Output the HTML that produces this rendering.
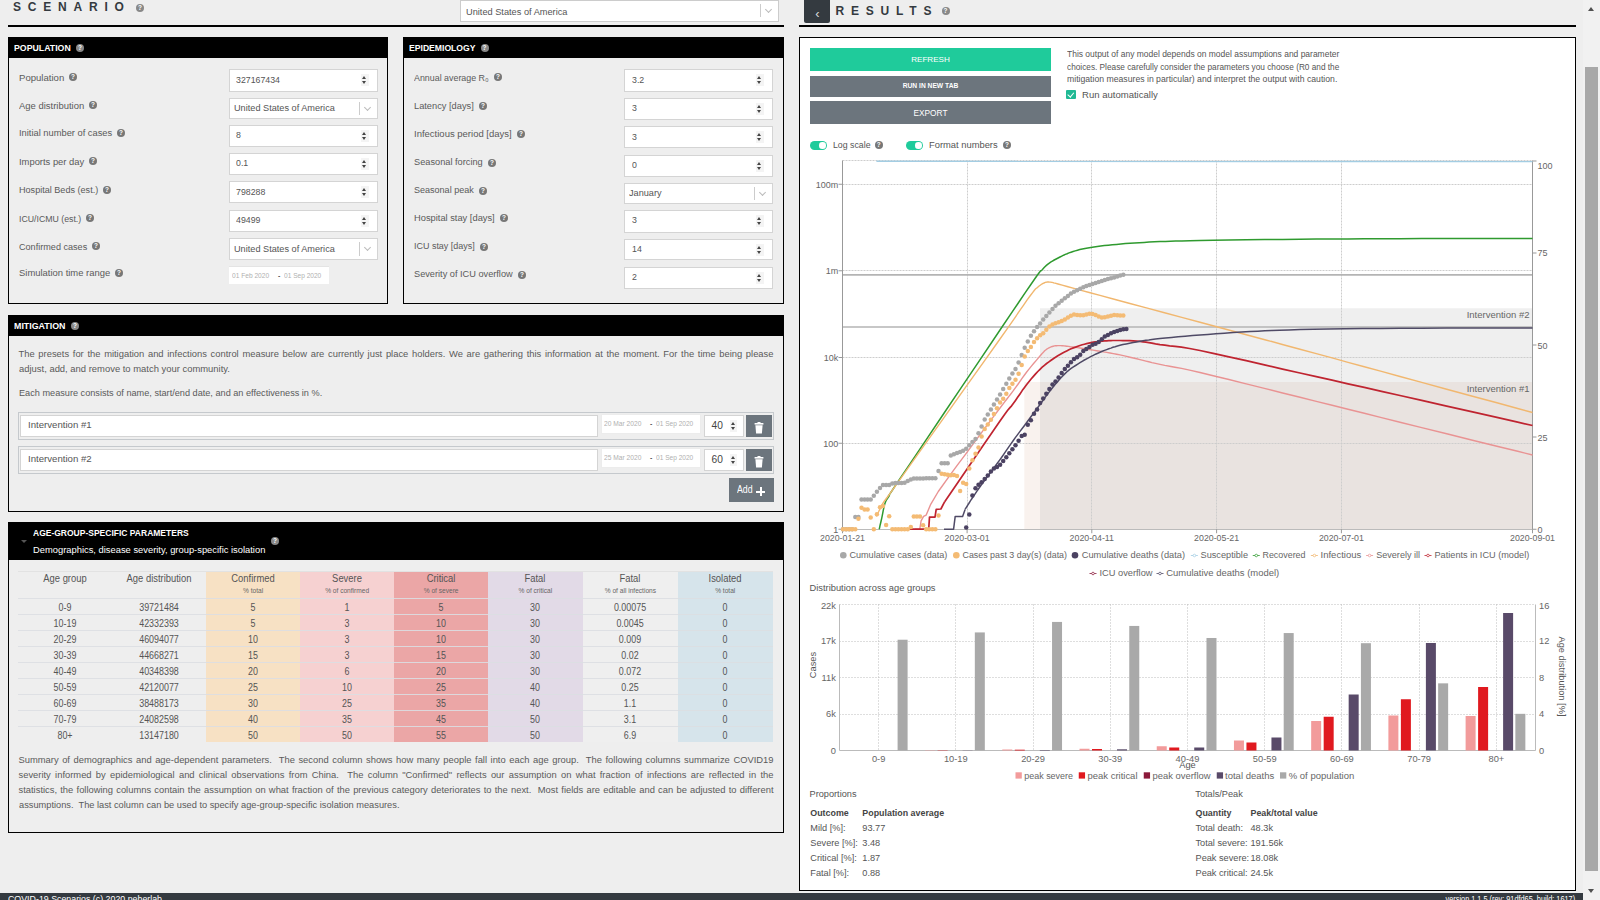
<!DOCTYPE html><html><head><meta charset="utf-8"><title>COVID-19 Scenarios</title><style>

*{margin:0;padding:0}
html,body{width:1600px;height:900px;overflow:hidden;background:#eee;font-family:"Liberation Sans", Arial, sans-serif}
body{position:relative}
.t{position:absolute;white-space:nowrap}
.r{position:absolute}
.q{position:absolute;border-radius:50%;color:#fff;text-align:center;font-weight:bold;font-family:"Liberation Sans", Arial, sans-serif}
.spin{position:absolute;width:6px;height:10px}
.spin:before{content:"";position:absolute;left:0.5px;top:1px;border-left:2.5px solid transparent;border-right:2.5px solid transparent;border-bottom:3px solid #444}
.spin:after{content:"";position:absolute;left:0.5px;top:6px;border-left:2.5px solid transparent;border-right:2.5px solid transparent;border-top:3px solid #444}
.chev{position:absolute;width:4px;height:4px;border-right:1px solid #bbb;border-bottom:1px solid #bbb;transform:rotate(45deg)}
.p{position:absolute;color:#5a5a5a;text-align:justify}

</style></head><body>
<div class="t" style="top:0.34px;font-size:12px;line-height:15.0px;color:#343a40;font-weight:bold;letter-spacing:6.8px;left:13px;">SCENARIO</div>
<div class="q" style="left:136.0px;top:4.0px;width:8px;height:8px;background:#888;font-size:6.4px;line-height:8px">?</div>
<div class="r" style="left:460px;top:0px;width:318.5px;height:22px;background:#fff;border:1px solid #ccc;box-sizing:border-box;"></div>
<div class="t" style="top:6.47px;font-size:9.6px;line-height:12.0px;color:#555;left:465.5px;transform:scaleX(0.9607);transform-origin:left center;">United States of America</div>
<div class="r" style="left:760px;top:4px;width:1px;height:13px;background:#ccc;"></div>
<div class="chev" style="left:766px;top:7px"></div>
<div class="r" style="left:8px;top:25px;width:776px;height:2px;background:#000;"></div>
<div class="r" style="left:804px;top:-2px;width:26px;height:24.5px;background:#343a40;border-radius:0 0 2px 2px;"></div>
<div class="t" style="top:5.87px;font-size:13px;line-height:16.25px;color:#ddd;left:517.3px;width:600px;text-align:center;">‹</div>
<div class="t" style="top:3.84px;font-size:12px;line-height:15.0px;color:#343a40;font-weight:bold;letter-spacing:6.8px;left:835.5px;">RESULTS</div>
<div class="q" style="left:941.5px;top:6.5px;width:8px;height:8px;background:#888;font-size:6.4px;line-height:8px">?</div>
<div class="r" style="left:799px;top:25px;width:777px;height:2px;background:#000;"></div>
<div class="r" style="left:8px;top:37px;width:380px;height:267px;border:1px solid #000;box-sizing:border-box;background:#eee;"></div>
<div class="r" style="left:8px;top:37px;width:380px;height:21px;background:#000;"></div>
<div class="t" style="top:42.56px;font-size:9px;line-height:11.25px;color:#fff;font-weight:bold;left:13.5px;transform:scaleX(0.9720);transform-origin:left center;">POPULATION</div>
<div class="q" style="left:76.0px;top:43.8px;width:8px;height:8px;background:#888;font-size:6.4px;line-height:8px">?</div>
<div class="r" style="left:403px;top:37px;width:381px;height:267px;border:1px solid #000;box-sizing:border-box;background:#eee;"></div>
<div class="r" style="left:403px;top:37px;width:381px;height:21px;background:#000;"></div>
<div class="t" style="top:42.56px;font-size:9px;line-height:11.25px;color:#fff;font-weight:bold;left:409.3px;transform:scaleX(0.9567);transform-origin:left center;">EPIDEMIOLOGY</div>
<div class="q" style="left:480.5px;top:43.8px;width:8px;height:8px;background:#888;font-size:6.4px;line-height:8px">?</div>
<div class="q" style="left:69.0px;top:73.3px;width:8px;height:8px;background:#777;font-size:6.4px;line-height:8px">?</div>
<div class="q" style="left:89.0px;top:101.3px;width:8px;height:8px;background:#777;font-size:6.4px;line-height:8px">?</div>
<div class="q" style="left:117.0px;top:128.5px;width:8px;height:8px;background:#777;font-size:6.4px;line-height:8px">?</div>
<div class="q" style="left:89.0px;top:157.3px;width:8px;height:8px;background:#777;font-size:6.4px;line-height:8px">?</div>
<div class="q" style="left:103.0px;top:186.0px;width:8px;height:8px;background:#777;font-size:6.4px;line-height:8px">?</div>
<div class="q" style="left:86.0px;top:214.0px;width:8px;height:8px;background:#777;font-size:6.4px;line-height:8px">?</div>
<div class="q" style="left:92.0px;top:242.3px;width:8px;height:8px;background:#777;font-size:6.4px;line-height:8px">?</div>
<div class="q" style="left:115.0px;top:268.5px;width:8px;height:8px;background:#777;font-size:6.4px;line-height:8px">?</div>
<div class="q" style="left:494.0px;top:73.0px;width:8px;height:8px;background:#777;font-size:6.4px;line-height:8px">?</div>
<div class="q" style="left:479.0px;top:102.0px;width:8px;height:8px;background:#777;font-size:6.4px;line-height:8px">?</div>
<div class="q" style="left:517.0px;top:130.3px;width:8px;height:8px;background:#777;font-size:6.4px;line-height:8px">?</div>
<div class="q" style="left:488.0px;top:158.5px;width:8px;height:8px;background:#777;font-size:6.4px;line-height:8px">?</div>
<div class="q" style="left:479.0px;top:186.5px;width:8px;height:8px;background:#777;font-size:6.4px;line-height:8px">?</div>
<div class="q" style="left:500.0px;top:214.0px;width:8px;height:8px;background:#777;font-size:6.4px;line-height:8px">?</div>
<div class="q" style="left:480.0px;top:242.5px;width:8px;height:8px;background:#777;font-size:6.4px;line-height:8px">?</div>
<div class="q" style="left:518.0px;top:271.0px;width:8px;height:8px;background:#777;font-size:6.4px;line-height:8px">?</div>
<div class="t" style="top:71.67px;font-size:9.6px;line-height:12.0px;color:#5a5a5a;left:18.5px;transform:scaleX(0.9973);transform-origin:left center;">Population</div>
<div class="r" style="left:228.5px;top:69px;width:149px;height:22.5px;background:#fff;border:1px solid #d4d4d4;box-sizing:border-box;"></div>
<div class="t" style="top:73.67px;font-size:9.6px;line-height:12.0px;color:#555;left:236.0px;transform:scaleX(0.9150);transform-origin:left center;">327167434</div>
<div class="r" style="left:360.5px;top:74px;width:8px;height:12px;background:#f4f4f4;"></div>
<div class="spin" style="left:361.5px;top:75px"></div>
<div class="t" style="top:99.67px;font-size:9.6px;line-height:12.0px;color:#5a5a5a;left:18.5px;transform:scaleX(0.9860);transform-origin:left center;">Age distribution</div>
<div class="r" style="left:228.5px;top:97.5px;width:149px;height:21px;background:#fff;border:1px solid #d4d4d4;box-sizing:border-box;"></div>
<div class="t" style="top:102.37px;font-size:9.6px;line-height:12.0px;color:#555;left:233.7px;transform:scaleX(0.9550);transform-origin:left center;">United States of America</div>
<div class="r" style="left:358.5px;top:101.5px;width:1px;height:13px;background:#ccc;"></div>
<div class="chev" style="left:364.5px;top:104.5px"></div>
<div class="t" style="top:126.67px;font-size:9.6px;line-height:12.0px;color:#5a5a5a;left:18.5px;transform:scaleX(0.9709);transform-origin:left center;">Initial number of cases</div>
<div class="r" style="left:228.5px;top:124.5px;width:149px;height:22px;background:#fff;border:1px solid #d4d4d4;box-sizing:border-box;"></div>
<div class="t" style="top:129.17px;font-size:9.6px;line-height:12.0px;color:#555;left:236.0px;transform:scaleX(0.9150);transform-origin:left center;">8</div>
<div class="r" style="left:360.5px;top:129.5px;width:8px;height:12px;background:#f4f4f4;"></div>
<div class="spin" style="left:361.5px;top:130.5px"></div>
<div class="t" style="top:155.67px;font-size:9.6px;line-height:12.0px;color:#5a5a5a;left:18.5px;transform:scaleX(0.9783);transform-origin:left center;">Imports per day</div>
<div class="r" style="left:228.5px;top:152.5px;width:149px;height:22.5px;background:#fff;border:1px solid #d4d4d4;box-sizing:border-box;"></div>
<div class="t" style="top:157.17px;font-size:9.6px;line-height:12.0px;color:#555;left:236.0px;transform:scaleX(0.9150);transform-origin:left center;">0.1</div>
<div class="r" style="left:360.5px;top:157.5px;width:8px;height:12px;background:#f4f4f4;"></div>
<div class="spin" style="left:361.5px;top:158.5px"></div>
<div class="t" style="top:183.67px;font-size:9.6px;line-height:12.0px;color:#5a5a5a;left:18.5px;transform:scaleX(0.9461);transform-origin:left center;">Hospital Beds (est.)</div>
<div class="r" style="left:228.5px;top:181px;width:149px;height:22px;background:#fff;border:1px solid #d4d4d4;box-sizing:border-box;"></div>
<div class="t" style="top:185.67px;font-size:9.6px;line-height:12.0px;color:#555;left:236.0px;transform:scaleX(0.9150);transform-origin:left center;">798288</div>
<div class="r" style="left:360.5px;top:186px;width:8px;height:12px;background:#f4f4f4;"></div>
<div class="spin" style="left:361.5px;top:187px"></div>
<div class="t" style="top:212.67px;font-size:9.6px;line-height:12.0px;color:#5a5a5a;left:18.5px;transform:scaleX(0.9119);transform-origin:left center;">ICU/ICMU (est.)</div>
<div class="r" style="left:228.5px;top:209.5px;width:149px;height:22.5px;background:#fff;border:1px solid #d4d4d4;box-sizing:border-box;"></div>
<div class="t" style="top:214.17px;font-size:9.6px;line-height:12.0px;color:#555;left:236.0px;transform:scaleX(0.9150);transform-origin:left center;">49499</div>
<div class="r" style="left:360.5px;top:214.5px;width:8px;height:12px;background:#f4f4f4;"></div>
<div class="spin" style="left:361.5px;top:215.5px"></div>
<div class="t" style="top:240.67px;font-size:9.6px;line-height:12.0px;color:#5a5a5a;left:18.5px;transform:scaleX(0.9475);transform-origin:left center;">Confirmed cases</div>
<div class="r" style="left:228.5px;top:238px;width:149px;height:21.5px;background:#fff;border:1px solid #d4d4d4;box-sizing:border-box;"></div>
<div class="t" style="top:242.87px;font-size:9.6px;line-height:12.0px;color:#555;left:233.7px;transform:scaleX(0.9550);transform-origin:left center;">United States of America</div>
<div class="r" style="left:358.5px;top:242px;width:1px;height:13.5px;background:#ccc;"></div>
<div class="chev" style="left:364.5px;top:245px"></div>
<div class="t" style="top:266.67px;font-size:9.6px;line-height:12.0px;color:#5a5a5a;left:18.5px;transform:scaleX(0.9828);transform-origin:left center;">Simulation time range</div>
<div class="r" style="left:228.5px;top:265.5px;width:100px;height:18.5px;background:#fff;border-top:1px solid #e4e4e4;box-sizing:border-box;"></div>
<div class="t" style="top:270.81px;font-size:7.2px;line-height:9.0px;color:#b0b0b0;left:231.8px;transform:scaleX(0.9200);transform-origin:left center;">01 Feb 2020</div>
<div class="t" style="top:271.50px;font-size:7px;line-height:8.75px;color:#555;font-weight:bold;left:278px;">-</div>
<div class="t" style="top:270.81px;font-size:7.2px;line-height:9.0px;color:#b0b0b0;left:283.7px;transform:scaleX(0.9134);transform-origin:left center;">01 Sep 2020</div>
<div class="t" style="top:71.67px;font-size:9.6px;line-height:12.0px;color:#5a5a5a;left:414px;transform:scaleX(0.9247);transform-origin:left center;">Annual average R₀</div>
<div class="r" style="left:624px;top:69px;width:148.5px;height:22.5px;background:#fff;border:1px solid #d4d4d4;box-sizing:border-box;"></div>
<div class="t" style="top:73.67px;font-size:9.6px;line-height:12.0px;color:#555;left:631.5px;transform:scaleX(0.9150);transform-origin:left center;">3.2</div>
<div class="r" style="left:755.5px;top:74px;width:8px;height:12px;background:#f4f4f4;"></div>
<div class="spin" style="left:756.5px;top:75px"></div>
<div class="t" style="top:99.67px;font-size:9.6px;line-height:12.0px;color:#5a5a5a;left:414px;transform:scaleX(0.9652);transform-origin:left center;">Latency [days]</div>
<div class="r" style="left:624px;top:97.5px;width:148.5px;height:22px;background:#fff;border:1px solid #d4d4d4;box-sizing:border-box;"></div>
<div class="t" style="top:102.17px;font-size:9.6px;line-height:12.0px;color:#555;left:631.5px;transform:scaleX(0.9150);transform-origin:left center;">3</div>
<div class="r" style="left:755.5px;top:102.5px;width:8px;height:12px;background:#f4f4f4;"></div>
<div class="spin" style="left:756.5px;top:103.5px"></div>
<div class="t" style="top:127.67px;font-size:9.6px;line-height:12.0px;color:#5a5a5a;left:414px;transform:scaleX(0.9901);transform-origin:left center;">Infectious period [days]</div>
<div class="r" style="left:624px;top:126px;width:148.5px;height:21.5px;background:#fff;border:1px solid #d4d4d4;box-sizing:border-box;"></div>
<div class="t" style="top:130.67px;font-size:9.6px;line-height:12.0px;color:#555;left:631.5px;transform:scaleX(0.9150);transform-origin:left center;">3</div>
<div class="r" style="left:755.5px;top:131px;width:8px;height:12px;background:#f4f4f4;"></div>
<div class="spin" style="left:756.5px;top:132px"></div>
<div class="t" style="top:155.67px;font-size:9.6px;line-height:12.0px;color:#5a5a5a;left:414px;transform:scaleX(0.9613);transform-origin:left center;">Seasonal forcing</div>
<div class="r" style="left:624px;top:154.5px;width:148.5px;height:22px;background:#fff;border:1px solid #d4d4d4;box-sizing:border-box;"></div>
<div class="t" style="top:159.17px;font-size:9.6px;line-height:12.0px;color:#555;left:631.5px;transform:scaleX(0.9150);transform-origin:left center;">0</div>
<div class="r" style="left:755.5px;top:159.5px;width:8px;height:12px;background:#f4f4f4;"></div>
<div class="spin" style="left:756.5px;top:160.5px"></div>
<div class="t" style="top:183.67px;font-size:9.6px;line-height:12.0px;color:#5a5a5a;left:414px;transform:scaleX(0.9407);transform-origin:left center;">Seasonal peak</div>
<div class="r" style="left:624px;top:182.5px;width:148.5px;height:21px;background:#fff;border:1px solid #d4d4d4;box-sizing:border-box;"></div>
<div class="t" style="top:187.37px;font-size:9.6px;line-height:12.0px;color:#555;left:629.2px;transform:scaleX(0.9550);transform-origin:left center;">January</div>
<div class="r" style="left:753.5px;top:186.5px;width:1px;height:13px;background:#ccc;"></div>
<div class="chev" style="left:759.5px;top:189.5px"></div>
<div class="t" style="top:211.67px;font-size:9.6px;line-height:12.0px;color:#5a5a5a;left:414px;transform:scaleX(0.9701);transform-origin:left center;">Hospital stay [days]</div>
<div class="r" style="left:624px;top:209.5px;width:148.5px;height:23px;background:#fff;border:1px solid #d4d4d4;box-sizing:border-box;"></div>
<div class="t" style="top:214.17px;font-size:9.6px;line-height:12.0px;color:#555;left:631.5px;transform:scaleX(0.9150);transform-origin:left center;">3</div>
<div class="r" style="left:755.5px;top:214.5px;width:8px;height:12px;background:#f4f4f4;"></div>
<div class="spin" style="left:756.5px;top:215.5px"></div>
<div class="t" style="top:239.67px;font-size:9.6px;line-height:12.0px;color:#5a5a5a;left:414px;transform:scaleX(0.9334);transform-origin:left center;">ICU stay [days]</div>
<div class="r" style="left:624px;top:238.5px;width:148.5px;height:21.5px;background:#fff;border:1px solid #d4d4d4;box-sizing:border-box;"></div>
<div class="t" style="top:243.17px;font-size:9.6px;line-height:12.0px;color:#555;left:631.5px;transform:scaleX(0.9150);transform-origin:left center;">14</div>
<div class="r" style="left:755.5px;top:243.5px;width:8px;height:12px;background:#f4f4f4;"></div>
<div class="spin" style="left:756.5px;top:244.5px"></div>
<div class="t" style="top:268.17px;font-size:9.6px;line-height:12.0px;color:#5a5a5a;left:414px;transform:scaleX(0.9590);transform-origin:left center;">Severity of ICU overflow</div>
<div class="r" style="left:624px;top:266.5px;width:148.5px;height:22.5px;background:#fff;border:1px solid #d4d4d4;box-sizing:border-box;"></div>
<div class="t" style="top:271.17px;font-size:9.6px;line-height:12.0px;color:#555;left:631.5px;transform:scaleX(0.9150);transform-origin:left center;">2</div>
<div class="r" style="left:755.5px;top:271.5px;width:8px;height:12px;background:#f4f4f4;"></div>
<div class="spin" style="left:756.5px;top:272.5px"></div>
<div class="r" style="left:8px;top:315px;width:776px;height:197px;border:1px solid #000;box-sizing:border-box;background:#eee;"></div>
<div class="r" style="left:8px;top:315px;width:776px;height:21px;background:#000;"></div>
<div class="t" style="top:320.56px;font-size:9px;line-height:11.25px;color:#fff;font-weight:bold;left:13.5px;transform:scaleX(0.9842);transform-origin:left center;">MITIGATION</div>
<div class="q" style="left:71.0px;top:321.8px;width:8px;height:8px;background:#888;font-size:6.4px;line-height:8px">?</div>
<div class="p" style="left:18.5px;top:348.17px;width:755px;font-size:9.4px;line-height:11.75px;color:#5a5a5a;text-align-last:justify;white-space:nowrap">The presets for the mitigation and infections control measure below are currently just place holders. We are gathering this information at the moment. For the time being please</div>
<div class="t" style="top:362.77px;font-size:9.4px;line-height:11.75px;color:#5a5a5a;left:18.5px;transform:scaleX(1.0053);transform-origin:left center;">adjust, add, and remove to match your community.</div>
<div class="t" style="top:387.47px;font-size:9.4px;line-height:11.75px;color:#5a5a5a;left:18.5px;transform:scaleX(0.9767);transform-origin:left center;">Each measure consists of name, start/end date, and an effectiveness in %.</div>
<div class="r" style="left:18px;top:411.5px;width:756px;height:28px;border:1px solid #c5c9cd;box-sizing:border-box;background:#eee;"></div>
<div class="r" style="left:20px;top:414.5px;width:577.5px;height:22px;background:#fff;border:1px solid #d4d4d4;box-sizing:border-box;"></div>
<div class="t" style="top:419.47px;font-size:9.6px;line-height:12.0px;color:#555;left:27.5px;transform:scaleX(1.0037);transform-origin:left center;">Intervention #1</div>
<div class="r" style="left:600.7px;top:413.5px;width:100.7px;height:20px;background:#fff;border:1px solid #ececec;box-sizing:border-box;"></div>
<div class="t" style="top:418.81px;font-size:7.2px;line-height:9.0px;color:#b0b0b0;left:604.3px;transform:scaleX(0.9251);transform-origin:left center;">20 Mar 2020</div>
<div class="t" style="top:419.50px;font-size:7px;line-height:8.75px;color:#555;font-weight:bold;left:650px;">-</div>
<div class="t" style="top:418.81px;font-size:7.2px;line-height:9.0px;color:#b0b0b0;left:656px;transform:scaleX(0.9134);transform-origin:left center;">01 Sep 2020</div>
<div class="r" style="left:704.3px;top:414.5px;width:39.5px;height:22px;background:#fff;border:1px solid #d4d4d4;box-sizing:border-box;"></div>
<div class="t" style="top:419.79px;font-size:10.2px;line-height:12.75px;color:#444;left:711.6px;">40</div>
<div class="r" style="left:729.5px;top:419.5px;width:7px;height:12px;background:#f4f4f4;"></div>
<div class="spin" style="left:730.3px;top:420.7px"></div>
<div class="r" style="left:746.2px;top:414.5px;width:25.8px;height:22.5px;background:#6c757d;"></div>
<svg class="r" style="left:746.2px;top:414.5px" width="26" height="23" viewBox="0 0 26 23"><rect x="8.6" y="8" width="8.8" height="1.6" fill="#fff"/><rect x="11.5" y="7" width="3" height="1.5" fill="#fff"/><path d="M9.4 10.3h7.2l-0.7 8.3h-5.8z" fill="#fff"/></svg>
<div class="r" style="left:18px;top:445.5px;width:756px;height:28px;border:1px solid #c5c9cd;box-sizing:border-box;background:#eee;"></div>
<div class="r" style="left:20px;top:448.5px;width:577.5px;height:22px;background:#fff;border:1px solid #d4d4d4;box-sizing:border-box;"></div>
<div class="t" style="top:453.47px;font-size:9.6px;line-height:12.0px;color:#555;left:27.5px;transform:scaleX(1.0037);transform-origin:left center;">Intervention #2</div>
<div class="r" style="left:600.7px;top:447.5px;width:100.7px;height:20px;background:#fff;border:1px solid #ececec;box-sizing:border-box;"></div>
<div class="t" style="top:452.81px;font-size:7.2px;line-height:9.0px;color:#b0b0b0;left:604.3px;transform:scaleX(0.9251);transform-origin:left center;">25 Mar 2020</div>
<div class="t" style="top:453.50px;font-size:7px;line-height:8.75px;color:#555;font-weight:bold;left:650px;">-</div>
<div class="t" style="top:452.81px;font-size:7.2px;line-height:9.0px;color:#b0b0b0;left:656px;transform:scaleX(0.9134);transform-origin:left center;">01 Sep 2020</div>
<div class="r" style="left:704.3px;top:448.5px;width:39.5px;height:22px;background:#fff;border:1px solid #d4d4d4;box-sizing:border-box;"></div>
<div class="t" style="top:453.79px;font-size:10.2px;line-height:12.75px;color:#444;left:711.6px;">60</div>
<div class="r" style="left:729.5px;top:453.5px;width:7px;height:12px;background:#f4f4f4;"></div>
<div class="spin" style="left:730.3px;top:454.7px"></div>
<div class="r" style="left:746.2px;top:448.5px;width:25.8px;height:22.5px;background:#6c757d;"></div>
<svg class="r" style="left:746.2px;top:448.5px" width="26" height="23" viewBox="0 0 26 23"><rect x="8.6" y="8" width="8.8" height="1.6" fill="#fff"/><rect x="11.5" y="7" width="3" height="1.5" fill="#fff"/><path d="M9.4 10.3h7.2l-0.7 8.3h-5.8z" fill="#fff"/></svg>
<div class="r" style="left:729.3px;top:478.3px;width:44.5px;height:23.5px;background:#6c757d;"></div>
<div class="t" style="top:482.70px;font-size:10.5px;line-height:13.12px;color:#fff;left:737.3px;transform:scaleX(0.8350);transform-origin:left center;">Add</div>
<div class="r" style="left:756.3px;top:490.6px;width:8.4px;height:2px;background:#fff;"></div>
<div class="r" style="left:759.5px;top:487.4px;width:2px;height:8.4px;background:#fff;"></div>
<div class="r" style="left:8px;top:522px;width:776px;height:311px;border:1px solid #000;box-sizing:border-box;background:#eee;"></div>
<div class="r" style="left:8px;top:522px;width:776px;height:38px;background:#000;"></div>
<div class="r" style="left:21px;top:540px;border-left:3px solid transparent;border-right:3px solid transparent;border-top:3.5px solid #555"></div>
<div class="t" style="top:528.45px;font-size:8.8px;line-height:11.0px;color:#fff;font-weight:bold;left:33px;transform:scaleX(0.9663);transform-origin:left center;">AGE-GROUP-SPECIFIC PARAMETERS</div>
<div class="t" style="top:544.47px;font-size:9.6px;line-height:12.0px;color:#fff;left:33px;transform:scaleX(0.9755);transform-origin:left center;">Demographics, disease severity, group-specific isolation</div>
<div class="q" style="left:271.0px;top:537.0px;width:8px;height:8px;background:#888;font-size:6.4px;line-height:8px">?</div>
<div class="r" style="left:206.25px;top:570.5px;width:93.75px;height:171.75px;background:#f7e1c4;"></div>
<div class="r" style="left:300px;top:570.5px;width:94.25px;height:171.75px;background:#f6d1d1;"></div>
<div class="r" style="left:394.25px;top:570.5px;width:93.75px;height:171.75px;background:#eba6a6;"></div>
<div class="r" style="left:488px;top:570.5px;width:94.75px;height:171.75px;background:#e2dae7;"></div>
<div class="r" style="left:582.75px;top:570.5px;width:95.25px;height:171.75px;background:#efefef;"></div>
<div class="r" style="left:678px;top:570.5px;width:94.5px;height:171.75px;background:#d6e4eb;"></div>
<div class="r" style="left:18.0px;top:570.5px;width:754.5px;height:1px;background:#e2e2e2;"></div>
<div class="r" style="left:18.0px;top:598.25px;width:754.5px;height:1px;background:rgba(220,222,226,0.9);"></div>
<div class="r" style="left:18.0px;top:614.25px;width:754.5px;height:1px;background:rgba(220,222,226,0.9);"></div>
<div class="r" style="left:18.0px;top:630.25px;width:754.5px;height:1px;background:rgba(220,222,226,0.9);"></div>
<div class="r" style="left:18.0px;top:646.25px;width:754.5px;height:1px;background:rgba(220,222,226,0.9);"></div>
<div class="r" style="left:18.0px;top:662.25px;width:754.5px;height:1px;background:rgba(220,222,226,0.9);"></div>
<div class="r" style="left:18.0px;top:678.25px;width:754.5px;height:1px;background:rgba(220,222,226,0.9);"></div>
<div class="r" style="left:18.0px;top:694.25px;width:754.5px;height:1px;background:rgba(220,222,226,0.9);"></div>
<div class="r" style="left:18.0px;top:710.25px;width:754.5px;height:1px;background:rgba(220,222,226,0.9);"></div>
<div class="r" style="left:18.0px;top:726.25px;width:754.5px;height:1px;background:rgba(220,222,226,0.9);"></div>
<div class="t" style="top:572.78px;font-size:10px;line-height:12.5px;color:#555;left:-234.95px;width:600px;text-align:center;transform:scaleX(0.9400);transform-origin:center center;">Age group</div>
<div class="t" style="top:572.78px;font-size:10px;line-height:12.5px;color:#555;left:-140.825px;width:600px;text-align:center;transform:scaleX(0.9400);transform-origin:center center;">Age distribution</div>
<div class="t" style="top:572.78px;font-size:10px;line-height:12.5px;color:#555;left:-46.875px;width:600px;text-align:center;transform:scaleX(0.9400);transform-origin:center center;">Confirmed</div>
<div class="t" style="top:586.89px;font-size:6.6px;line-height:8.25px;color:#666;left:-46.875px;width:600px;text-align:center;">% total</div>
<div class="t" style="top:572.78px;font-size:10px;line-height:12.5px;color:#555;left:47.125px;width:600px;text-align:center;transform:scaleX(0.9400);transform-origin:center center;">Severe</div>
<div class="t" style="top:586.89px;font-size:6.6px;line-height:8.25px;color:#666;left:47.125px;width:600px;text-align:center;">% of confirmed</div>
<div class="t" style="top:572.78px;font-size:10px;line-height:12.5px;color:#555;left:141.125px;width:600px;text-align:center;transform:scaleX(0.9400);transform-origin:center center;">Critical</div>
<div class="t" style="top:586.89px;font-size:6.6px;line-height:8.25px;color:#666;left:141.125px;width:600px;text-align:center;">% of severe</div>
<div class="t" style="top:572.78px;font-size:10px;line-height:12.5px;color:#555;left:235.375px;width:600px;text-align:center;transform:scaleX(0.9400);transform-origin:center center;">Fatal</div>
<div class="t" style="top:586.89px;font-size:6.6px;line-height:8.25px;color:#666;left:235.375px;width:600px;text-align:center;">% of critical</div>
<div class="t" style="top:572.78px;font-size:10px;line-height:12.5px;color:#555;left:330.375px;width:600px;text-align:center;transform:scaleX(0.9400);transform-origin:center center;">Fatal</div>
<div class="t" style="top:586.89px;font-size:6.6px;line-height:8.25px;color:#666;left:330.375px;width:600px;text-align:center;">% of all infections</div>
<div class="t" style="top:572.78px;font-size:10px;line-height:12.5px;color:#555;left:425.25px;width:600px;text-align:center;transform:scaleX(0.9400);transform-origin:center center;">Isolated</div>
<div class="t" style="top:586.89px;font-size:6.6px;line-height:8.25px;color:#666;left:425.25px;width:600px;text-align:center;">% total</div>
<div class="t" style="top:601.53px;font-size:10px;line-height:12.5px;color:#555;left:-234.95px;width:600px;text-align:center;transform:scaleX(0.8900);transform-origin:center center;">0-9</div>
<div class="t" style="top:601.53px;font-size:10px;line-height:12.5px;color:#555;left:-140.825px;width:600px;text-align:center;transform:scaleX(0.8900);transform-origin:center center;">39721484</div>
<div class="t" style="top:601.53px;font-size:10px;line-height:12.5px;color:#555;left:-46.875px;width:600px;text-align:center;transform:scaleX(0.8900);transform-origin:center center;">5</div>
<div class="t" style="top:601.53px;font-size:10px;line-height:12.5px;color:#555;left:47.125px;width:600px;text-align:center;transform:scaleX(0.8900);transform-origin:center center;">1</div>
<div class="t" style="top:601.53px;font-size:10px;line-height:12.5px;color:#555;left:141.125px;width:600px;text-align:center;transform:scaleX(0.8900);transform-origin:center center;">5</div>
<div class="t" style="top:601.53px;font-size:10px;line-height:12.5px;color:#555;left:235.375px;width:600px;text-align:center;transform:scaleX(0.8900);transform-origin:center center;">30</div>
<div class="t" style="top:601.53px;font-size:10px;line-height:12.5px;color:#555;left:330.375px;width:600px;text-align:center;transform:scaleX(0.8900);transform-origin:center center;">0.00075</div>
<div class="t" style="top:601.53px;font-size:10px;line-height:12.5px;color:#555;left:425.25px;width:600px;text-align:center;transform:scaleX(0.8900);transform-origin:center center;">0</div>
<div class="t" style="top:617.53px;font-size:10px;line-height:12.5px;color:#555;left:-234.95px;width:600px;text-align:center;transform:scaleX(0.8900);transform-origin:center center;">10-19</div>
<div class="t" style="top:617.53px;font-size:10px;line-height:12.5px;color:#555;left:-140.825px;width:600px;text-align:center;transform:scaleX(0.8900);transform-origin:center center;">42332393</div>
<div class="t" style="top:617.53px;font-size:10px;line-height:12.5px;color:#555;left:-46.875px;width:600px;text-align:center;transform:scaleX(0.8900);transform-origin:center center;">5</div>
<div class="t" style="top:617.53px;font-size:10px;line-height:12.5px;color:#555;left:47.125px;width:600px;text-align:center;transform:scaleX(0.8900);transform-origin:center center;">3</div>
<div class="t" style="top:617.53px;font-size:10px;line-height:12.5px;color:#555;left:141.125px;width:600px;text-align:center;transform:scaleX(0.8900);transform-origin:center center;">10</div>
<div class="t" style="top:617.53px;font-size:10px;line-height:12.5px;color:#555;left:235.375px;width:600px;text-align:center;transform:scaleX(0.8900);transform-origin:center center;">30</div>
<div class="t" style="top:617.53px;font-size:10px;line-height:12.5px;color:#555;left:330.375px;width:600px;text-align:center;transform:scaleX(0.8900);transform-origin:center center;">0.0045</div>
<div class="t" style="top:617.53px;font-size:10px;line-height:12.5px;color:#555;left:425.25px;width:600px;text-align:center;transform:scaleX(0.8900);transform-origin:center center;">0</div>
<div class="t" style="top:633.53px;font-size:10px;line-height:12.5px;color:#555;left:-234.95px;width:600px;text-align:center;transform:scaleX(0.8900);transform-origin:center center;">20-29</div>
<div class="t" style="top:633.53px;font-size:10px;line-height:12.5px;color:#555;left:-140.825px;width:600px;text-align:center;transform:scaleX(0.8900);transform-origin:center center;">46094077</div>
<div class="t" style="top:633.53px;font-size:10px;line-height:12.5px;color:#555;left:-46.875px;width:600px;text-align:center;transform:scaleX(0.8900);transform-origin:center center;">10</div>
<div class="t" style="top:633.53px;font-size:10px;line-height:12.5px;color:#555;left:47.125px;width:600px;text-align:center;transform:scaleX(0.8900);transform-origin:center center;">3</div>
<div class="t" style="top:633.53px;font-size:10px;line-height:12.5px;color:#555;left:141.125px;width:600px;text-align:center;transform:scaleX(0.8900);transform-origin:center center;">10</div>
<div class="t" style="top:633.53px;font-size:10px;line-height:12.5px;color:#555;left:235.375px;width:600px;text-align:center;transform:scaleX(0.8900);transform-origin:center center;">30</div>
<div class="t" style="top:633.53px;font-size:10px;line-height:12.5px;color:#555;left:330.375px;width:600px;text-align:center;transform:scaleX(0.8900);transform-origin:center center;">0.009</div>
<div class="t" style="top:633.53px;font-size:10px;line-height:12.5px;color:#555;left:425.25px;width:600px;text-align:center;transform:scaleX(0.8900);transform-origin:center center;">0</div>
<div class="t" style="top:649.53px;font-size:10px;line-height:12.5px;color:#555;left:-234.95px;width:600px;text-align:center;transform:scaleX(0.8900);transform-origin:center center;">30-39</div>
<div class="t" style="top:649.53px;font-size:10px;line-height:12.5px;color:#555;left:-140.825px;width:600px;text-align:center;transform:scaleX(0.8900);transform-origin:center center;">44668271</div>
<div class="t" style="top:649.53px;font-size:10px;line-height:12.5px;color:#555;left:-46.875px;width:600px;text-align:center;transform:scaleX(0.8900);transform-origin:center center;">15</div>
<div class="t" style="top:649.53px;font-size:10px;line-height:12.5px;color:#555;left:47.125px;width:600px;text-align:center;transform:scaleX(0.8900);transform-origin:center center;">3</div>
<div class="t" style="top:649.53px;font-size:10px;line-height:12.5px;color:#555;left:141.125px;width:600px;text-align:center;transform:scaleX(0.8900);transform-origin:center center;">15</div>
<div class="t" style="top:649.53px;font-size:10px;line-height:12.5px;color:#555;left:235.375px;width:600px;text-align:center;transform:scaleX(0.8900);transform-origin:center center;">30</div>
<div class="t" style="top:649.53px;font-size:10px;line-height:12.5px;color:#555;left:330.375px;width:600px;text-align:center;transform:scaleX(0.8900);transform-origin:center center;">0.02</div>
<div class="t" style="top:649.53px;font-size:10px;line-height:12.5px;color:#555;left:425.25px;width:600px;text-align:center;transform:scaleX(0.8900);transform-origin:center center;">0</div>
<div class="t" style="top:665.53px;font-size:10px;line-height:12.5px;color:#555;left:-234.95px;width:600px;text-align:center;transform:scaleX(0.8900);transform-origin:center center;">40-49</div>
<div class="t" style="top:665.53px;font-size:10px;line-height:12.5px;color:#555;left:-140.825px;width:600px;text-align:center;transform:scaleX(0.8900);transform-origin:center center;">40348398</div>
<div class="t" style="top:665.53px;font-size:10px;line-height:12.5px;color:#555;left:-46.875px;width:600px;text-align:center;transform:scaleX(0.8900);transform-origin:center center;">20</div>
<div class="t" style="top:665.53px;font-size:10px;line-height:12.5px;color:#555;left:47.125px;width:600px;text-align:center;transform:scaleX(0.8900);transform-origin:center center;">6</div>
<div class="t" style="top:665.53px;font-size:10px;line-height:12.5px;color:#555;left:141.125px;width:600px;text-align:center;transform:scaleX(0.8900);transform-origin:center center;">20</div>
<div class="t" style="top:665.53px;font-size:10px;line-height:12.5px;color:#555;left:235.375px;width:600px;text-align:center;transform:scaleX(0.8900);transform-origin:center center;">30</div>
<div class="t" style="top:665.53px;font-size:10px;line-height:12.5px;color:#555;left:330.375px;width:600px;text-align:center;transform:scaleX(0.8900);transform-origin:center center;">0.072</div>
<div class="t" style="top:665.53px;font-size:10px;line-height:12.5px;color:#555;left:425.25px;width:600px;text-align:center;transform:scaleX(0.8900);transform-origin:center center;">0</div>
<div class="t" style="top:681.53px;font-size:10px;line-height:12.5px;color:#555;left:-234.95px;width:600px;text-align:center;transform:scaleX(0.8900);transform-origin:center center;">50-59</div>
<div class="t" style="top:681.53px;font-size:10px;line-height:12.5px;color:#555;left:-140.825px;width:600px;text-align:center;transform:scaleX(0.8900);transform-origin:center center;">42120077</div>
<div class="t" style="top:681.53px;font-size:10px;line-height:12.5px;color:#555;left:-46.875px;width:600px;text-align:center;transform:scaleX(0.8900);transform-origin:center center;">25</div>
<div class="t" style="top:681.53px;font-size:10px;line-height:12.5px;color:#555;left:47.125px;width:600px;text-align:center;transform:scaleX(0.8900);transform-origin:center center;">10</div>
<div class="t" style="top:681.53px;font-size:10px;line-height:12.5px;color:#555;left:141.125px;width:600px;text-align:center;transform:scaleX(0.8900);transform-origin:center center;">25</div>
<div class="t" style="top:681.53px;font-size:10px;line-height:12.5px;color:#555;left:235.375px;width:600px;text-align:center;transform:scaleX(0.8900);transform-origin:center center;">40</div>
<div class="t" style="top:681.53px;font-size:10px;line-height:12.5px;color:#555;left:330.375px;width:600px;text-align:center;transform:scaleX(0.8900);transform-origin:center center;">0.25</div>
<div class="t" style="top:681.53px;font-size:10px;line-height:12.5px;color:#555;left:425.25px;width:600px;text-align:center;transform:scaleX(0.8900);transform-origin:center center;">0</div>
<div class="t" style="top:697.53px;font-size:10px;line-height:12.5px;color:#555;left:-234.95px;width:600px;text-align:center;transform:scaleX(0.8900);transform-origin:center center;">60-69</div>
<div class="t" style="top:697.53px;font-size:10px;line-height:12.5px;color:#555;left:-140.825px;width:600px;text-align:center;transform:scaleX(0.8900);transform-origin:center center;">38488173</div>
<div class="t" style="top:697.53px;font-size:10px;line-height:12.5px;color:#555;left:-46.875px;width:600px;text-align:center;transform:scaleX(0.8900);transform-origin:center center;">30</div>
<div class="t" style="top:697.53px;font-size:10px;line-height:12.5px;color:#555;left:47.125px;width:600px;text-align:center;transform:scaleX(0.8900);transform-origin:center center;">25</div>
<div class="t" style="top:697.53px;font-size:10px;line-height:12.5px;color:#555;left:141.125px;width:600px;text-align:center;transform:scaleX(0.8900);transform-origin:center center;">35</div>
<div class="t" style="top:697.53px;font-size:10px;line-height:12.5px;color:#555;left:235.375px;width:600px;text-align:center;transform:scaleX(0.8900);transform-origin:center center;">40</div>
<div class="t" style="top:697.53px;font-size:10px;line-height:12.5px;color:#555;left:330.375px;width:600px;text-align:center;transform:scaleX(0.8900);transform-origin:center center;">1.1</div>
<div class="t" style="top:697.53px;font-size:10px;line-height:12.5px;color:#555;left:425.25px;width:600px;text-align:center;transform:scaleX(0.8900);transform-origin:center center;">0</div>
<div class="t" style="top:713.53px;font-size:10px;line-height:12.5px;color:#555;left:-234.95px;width:600px;text-align:center;transform:scaleX(0.8900);transform-origin:center center;">70-79</div>
<div class="t" style="top:713.53px;font-size:10px;line-height:12.5px;color:#555;left:-140.825px;width:600px;text-align:center;transform:scaleX(0.8900);transform-origin:center center;">24082598</div>
<div class="t" style="top:713.53px;font-size:10px;line-height:12.5px;color:#555;left:-46.875px;width:600px;text-align:center;transform:scaleX(0.8900);transform-origin:center center;">40</div>
<div class="t" style="top:713.53px;font-size:10px;line-height:12.5px;color:#555;left:47.125px;width:600px;text-align:center;transform:scaleX(0.8900);transform-origin:center center;">35</div>
<div class="t" style="top:713.53px;font-size:10px;line-height:12.5px;color:#555;left:141.125px;width:600px;text-align:center;transform:scaleX(0.8900);transform-origin:center center;">45</div>
<div class="t" style="top:713.53px;font-size:10px;line-height:12.5px;color:#555;left:235.375px;width:600px;text-align:center;transform:scaleX(0.8900);transform-origin:center center;">50</div>
<div class="t" style="top:713.53px;font-size:10px;line-height:12.5px;color:#555;left:330.375px;width:600px;text-align:center;transform:scaleX(0.8900);transform-origin:center center;">3.1</div>
<div class="t" style="top:713.53px;font-size:10px;line-height:12.5px;color:#555;left:425.25px;width:600px;text-align:center;transform:scaleX(0.8900);transform-origin:center center;">0</div>
<div class="t" style="top:729.53px;font-size:10px;line-height:12.5px;color:#555;left:-234.95px;width:600px;text-align:center;transform:scaleX(0.8900);transform-origin:center center;">80+</div>
<div class="t" style="top:729.53px;font-size:10px;line-height:12.5px;color:#555;left:-140.825px;width:600px;text-align:center;transform:scaleX(0.8900);transform-origin:center center;">13147180</div>
<div class="t" style="top:729.53px;font-size:10px;line-height:12.5px;color:#555;left:-46.875px;width:600px;text-align:center;transform:scaleX(0.8900);transform-origin:center center;">50</div>
<div class="t" style="top:729.53px;font-size:10px;line-height:12.5px;color:#555;left:47.125px;width:600px;text-align:center;transform:scaleX(0.8900);transform-origin:center center;">50</div>
<div class="t" style="top:729.53px;font-size:10px;line-height:12.5px;color:#555;left:141.125px;width:600px;text-align:center;transform:scaleX(0.8900);transform-origin:center center;">55</div>
<div class="t" style="top:729.53px;font-size:10px;line-height:12.5px;color:#555;left:235.375px;width:600px;text-align:center;transform:scaleX(0.8900);transform-origin:center center;">50</div>
<div class="t" style="top:729.53px;font-size:10px;line-height:12.5px;color:#555;left:330.375px;width:600px;text-align:center;transform:scaleX(0.8900);transform-origin:center center;">6.9</div>
<div class="t" style="top:729.53px;font-size:10px;line-height:12.5px;color:#555;left:425.25px;width:600px;text-align:center;transform:scaleX(0.8900);transform-origin:center center;">0</div>
<div class="p" style="left:18.5px;top:753.87px;width:755px;font-size:9.4px;line-height:11.75px;color:#5a5a5a;text-align-last:justify;white-space:nowrap">Summary of demographics and age-dependent parameters.&nbsp; The second column shows how many people fall into each age group.&nbsp; The following columns summarize COVID19</div>
<div class="p" style="left:18.5px;top:768.87px;width:755px;font-size:9.4px;line-height:11.75px;color:#5a5a5a;text-align-last:justify;white-space:nowrap">severity informed by epidemiological and clinical observations from China.&nbsp; The column "Confirmed" reflects our assumption on what fraction of infections are reflected in the</div>
<div class="p" style="left:18.5px;top:783.87px;width:755px;font-size:9.4px;line-height:11.75px;color:#5a5a5a;text-align-last:justify;white-space:nowrap">statistics, the following columns contain the assumption on what fraction of the previous category deteriorates to the next.&nbsp; Most fields are editable and can be adjusted to different</div>
<div class="t" style="top:798.87px;font-size:9.4px;line-height:11.75px;color:#5a5a5a;left:18.5px;transform:scaleX(0.9871);transform-origin:left center;">assumptions.  The last column can be used to specify age-group-specific isolation measures.</div>
<div class="r" style="left:0px;top:892.5px;width:1583px;height:8px;background:#343a40;"></div>
<div class="t" style="top:893.27px;font-size:9.5px;line-height:11.88px;color:#fff;left:8px;transform:scaleX(0.9288);transform-origin:left center;">COVID-19 Scenarios (c) 2020 neherlab</div>
<div class="t" style="top:893.76px;font-size:9px;line-height:11.25px;color:#fff;right:25px;transform:scaleX(0.8139);transform-origin:right center;">version 1.1.5 (rev: 91dfd65, build: 1617)</div>
<div class="r" style="left:1583px;top:0px;width:17px;height:900px;background:#f1f1f1;"></div>
<div class="r" style="left:1585px;top:67px;width:13px;height:804px;background:#a8a8a8;"></div>
<div class="r" style="left:1588px;top:7px;border-left:3.5px solid transparent;border-right:3.5px solid transparent;border-bottom:4px solid #505050"></div>
<div class="r" style="left:1588px;top:889px;border-left:3.5px solid transparent;border-right:3.5px solid transparent;border-top:4px solid #505050"></div>
<div class="r" style="left:799px;top:37px;width:777px;height:854px;border:1px solid #000;box-sizing:border-box;background:#fff;"></div>
<div class="r" style="left:810px;top:48px;width:241px;height:23px;background:#1fcb9b;"></div>
<div class="t" style="top:55.13px;font-size:8.1px;line-height:10.12px;color:#fff;left:630.5px;width:600px;text-align:center;">REFRESH</div>
<div class="r" style="left:810px;top:76px;width:241px;height:21px;background:#6c757d;"></div>
<div class="t" style="top:81.69px;font-size:6.7px;line-height:8.38px;color:#fff;font-weight:bold;left:630.5px;width:600px;text-align:center;">RUN IN NEW TAB</div>
<div class="r" style="left:810px;top:101px;width:241px;height:23px;background:#6c757d;"></div>
<div class="t" style="top:107.93px;font-size:8.3px;line-height:10.38px;color:#fff;left:630.5px;width:600px;text-align:center;">EXPORT</div>
<div class="t" style="top:48.55px;font-size:8.6px;line-height:10.75px;color:#555;left:1066.5px;transform:scaleX(0.9861);transform-origin:left center;">This output of any model depends on model assumptions and parameter</div>
<div class="t" style="top:61.55px;font-size:8.6px;line-height:10.75px;color:#555;left:1066.5px;transform:scaleX(0.9613);transform-origin:left center;">choices. Please carefully consider the parameters you choose (R0 and the</div>
<div class="t" style="top:74.45px;font-size:8.6px;line-height:10.75px;color:#555;left:1066.5px;transform:scaleX(1.0086);transform-origin:left center;">mitigation measures in particular) and interpret the output with caution.</div>
<div class="r" style="left:1066px;top:89.7px;width:10px;height:9.5px;background:#20b994;border-radius:1px;"></div>
<div class="r" style="left:1068.6px;top:91.2px;width:2.5px;height:4.5px;border-right:1.3px solid #fff;border-bottom:1.3px solid #fff;transform:rotate(40deg)"></div>
<div class="t" style="top:88.57px;font-size:9.5px;line-height:11.88px;color:#555;left:1081.5px;transform:scaleX(1.0038);transform-origin:left center;">Run automatically</div>
<div class="r" style="left:810px;top:140.5px;width:17px;height:9.5px;background:#1fcb9b;border-radius:5px;"></div>
<div class="r" style="left:819px;top:142.0px;width:6.5px;height:6.5px;border-radius:50%;background:#fff"></div>
<div class="t" style="top:139.86px;font-size:9.0px;line-height:11.25px;color:#555;left:832.5px;transform:scaleX(0.9733);transform-origin:left center;">Log scale</div>
<div class="q" style="left:874.8px;top:141.0px;width:8px;height:8px;background:#777;font-size:6.4px;line-height:8px">?</div>
<div class="r" style="left:906.3px;top:140.5px;width:17px;height:9.5px;background:#1fcb9b;border-radius:5px;"></div>
<div class="r" style="left:915.3px;top:142.0px;width:6.5px;height:6.5px;border-radius:50%;background:#fff"></div>
<div class="t" style="top:140.06px;font-size:9.2px;line-height:11.5px;color:#555;left:928.7px;transform:scaleX(1.0187);transform-origin:left center;">Format numbers</div>
<div class="q" style="left:1003.0px;top:141.0px;width:8px;height:8px;background:#777;font-size:6.4px;line-height:8px">?</div>
<svg class="r" style="left:0;top:0;font-family:"Liberation Sans", Arial, sans-serif" width="1600" height="900" viewBox="0 0 1600 900"><rect x="1024.3" y="382" width="508.2" height="147.25" fill="rgb(200,145,105)" fill-opacity="0.115"/><rect x="1040" y="308.2" width="492.5" height="221.05" fill="rgb(120,120,124)" fill-opacity="0.12"/><line x1="842.5" y1="184.5" x2="1532.5" y2="184.5" stroke="#cdcdcd" stroke-width="1" stroke-dasharray="2,1"/><line x1="842.5" y1="270.5" x2="1532.5" y2="270.5" stroke="#cdcdcd" stroke-width="1" stroke-dasharray="2,1"/><line x1="842.5" y1="357.5" x2="1532.5" y2="357.5" stroke="#cdcdcd" stroke-width="1" stroke-dasharray="2,1"/><line x1="842.5" y1="443.5" x2="1532.5" y2="443.5" stroke="#cdcdcd" stroke-width="1" stroke-dasharray="2,1"/><line x1="842.5" y1="160.5" x2="1532.5" y2="160.5" stroke="#cdcdcd" stroke-width="1" stroke-dasharray="2,1"/><line x1="967.5" y1="160.5" x2="967.5" y2="529.25" stroke="#cdcdcd" stroke-width="1" stroke-dasharray="2,1"/><line x1="1091.5" y1="160.5" x2="1091.5" y2="529.25" stroke="#cdcdcd" stroke-width="1" stroke-dasharray="2,1"/><line x1="1216.5" y1="160.5" x2="1216.5" y2="529.25" stroke="#cdcdcd" stroke-width="1" stroke-dasharray="2,1"/><line x1="1341.5" y1="160.5" x2="1341.5" y2="529.25" stroke="#cdcdcd" stroke-width="1" stroke-dasharray="2,1"/><line x1="842.5" y1="274.9" x2="1532.5" y2="274.9" stroke="#b4b4b4" stroke-width="1.6"/><line x1="842.5" y1="327" x2="1532.5" y2="327" stroke="#b4b4b4" stroke-width="1.6"/><line x1="842.5" y1="160.5" x2="842.5" y2="529.25" stroke="#999" stroke-width="1"/><line x1="1532.5" y1="160.5" x2="1532.5" y2="529.25" stroke="#999" stroke-width="1"/><line x1="842.5" y1="529.5" x2="1532.5" y2="529.5" stroke="#bbb" stroke-width="1"/><line x1="838.5" y1="184.25" x2="842.5" y2="184.25" stroke="#999"/><line x1="838.5" y1="270.75" x2="842.5" y2="270.75" stroke="#999"/><line x1="838.5" y1="357.5" x2="842.5" y2="357.5" stroke="#999"/><line x1="838.5" y1="443.25" x2="842.5" y2="443.25" stroke="#999"/><line x1="838.5" y1="529.25" x2="842.5" y2="529.25" stroke="#999"/><line x1="1532.5" y1="161" x2="1536.5" y2="161" stroke="#999"/><line x1="1532.5" y1="253" x2="1536.5" y2="253" stroke="#999"/><line x1="1532.5" y1="345" x2="1536.5" y2="345" stroke="#999"/><line x1="1532.5" y1="437" x2="1536.5" y2="437" stroke="#999"/><line x1="1532.5" y1="529.25" x2="1536.5" y2="529.25" stroke="#999"/><line x1="842.5" y1="529.25" x2="842.5" y2="533.25" stroke="#999"/><line x1="967.1" y1="529.25" x2="967.1" y2="533.25" stroke="#999"/><line x1="1091.8" y1="529.25" x2="1091.8" y2="533.25" stroke="#999"/><line x1="1216.6" y1="529.25" x2="1216.6" y2="533.25" stroke="#999"/><line x1="1341.4" y1="529.25" x2="1341.4" y2="533.25" stroke="#999"/><line x1="1532.5" y1="529.25" x2="1532.5" y2="533.25" stroke="#999"/><polyline points="876.4,161.3 1532.5,161.6" fill="none" stroke="#a3cde3" stroke-width="1.4" stroke-linejoin="round" /><polyline points="879.2,529.2 879.5,528.1 879.8,526.6 880.2,524.7 880.7,522.7 881.2,520.5 881.7,518.3 882.2,515.9 882.7,513.3 883.2,510.6 883.8,507.9 884.4,505.4 885.0,503.3 885.6,501.7 886.2,500.5 886.7,499.5 887.4,498.5 888.2,497.4 889.2,495.8 889.4,495.2 888.7,496.1 888.1,496.9 888.7,495.7 891.8,491.0 898.3,481.2 909.8,464.1 925.6,440.6 943.8,413.5 962.4,385.9 979.6,360.4 993.3,340.0 1003.7,324.5 1012.4,311.6 1019.6,301.0 1025.6,292.1 1030.7,284.8 1035.0,278.5 1038.2,274.0 1039.9,271.7 1040.7,270.8 1041.0,270.7 1041.2,270.7 1042.0,270.0 1043.1,268.8 1044.2,267.6 1045.2,266.5 1046.4,265.4 1047.6,264.4 1049.0,263.3 1050.6,262.2 1052.4,261.1 1054.2,260.0 1056.2,259.0 1058.1,258.0 1060.0,257.0 1061.8,256.1 1063.6,255.2 1065.3,254.4 1067.1,253.7 1069.0,252.9 1071.0,252.2 1073.1,251.5 1075.2,250.9 1077.5,250.2 1079.8,249.6 1082.3,249.1 1085.0,248.5 1087.8,248.0 1090.8,247.5 1094.0,247.0 1097.3,246.5 1100.7,246.0 1104.4,245.6 1108.3,245.2 1112.3,244.8 1116.5,244.4 1120.9,244.0 1125.4,243.6 1130.0,243.3 1134.6,243.0 1139.3,242.7 1144.1,242.4 1149.1,242.1 1154.4,241.8 1160.0,241.6 1165.4,241.4 1170.4,241.2 1175.6,241.0 1181.9,240.9 1189.7,240.7 1200.0,240.5 1213.2,240.3 1228.9,240.1 1246.2,239.8 1264.4,239.6 1282.6,239.4 1300.0,239.2 1316.3,239.1 1332.1,239.0 1348.0,238.9 1364.3,238.8 1381.5,238.8 1400.0,238.7 1421.7,238.6 1446.7,238.6 1472.5,238.5 1496.9,238.5 1517.7,238.4 1532.5,238.4" fill="none" stroke="#2f9a2f" stroke-width="1.5" stroke-linejoin="round" /><polyline points="876.4,516.5 876.8,515.7 877.3,514.6 877.9,513.2 878.6,511.8 879.3,510.3 880.0,509.0 880.6,507.7 881.3,506.5 881.9,505.2 882.6,503.9 883.3,502.7 884.0,501.5 884.8,500.4 885.6,499.3 886.4,498.2 887.3,497.2 888.2,496.1 889.0,495.0 888.7,495.4 887.0,497.8 885.3,500.1 885.0,500.5 887.5,497.0 894.0,487.8 906.4,470.4 923.8,445.9 944.0,417.6 964.6,388.7 983.2,362.6 997.5,342.5 1007.3,328.6 1014.5,318.3 1019.7,310.7 1023.6,305.1 1026.8,300.4 1030.0,296.0 1032.8,292.3 1034.6,290.0 1035.7,288.8 1036.4,288.2 1037.1,287.8 1038.0,287.0 1039.1,286.0 1040.2,285.2 1041.2,284.5 1042.2,283.9 1043.1,283.4 1044.0,283.0 1044.8,282.6 1045.4,282.4 1046.1,282.2 1046.7,282.1 1047.3,282.0 1048.0,282.0 1048.8,282.0 1049.6,282.1 1050.4,282.1 1051.3,282.3 1052.2,282.4 1053.0,282.6 1053.4,282.7 1053.3,282.6 1053.2,282.6 1053.6,282.8 1055.0,283.2 1058.0,284.0 1062.2,285.1 1067.1,286.5 1073.1,288.1 1080.3,290.1 1089.2,292.5 1100.0,295.4 1113.3,299.0 1129.0,303.2 1146.4,307.9 1164.5,312.8 1182.7,317.6 1200.0,322.3 1216.7,326.8 1233.3,331.3 1250.0,335.7 1266.7,340.2 1283.3,344.7 1300.0,349.2 1316.3,353.6 1332.1,357.9 1348.0,362.3 1364.3,366.7 1381.5,371.4 1400.0,376.5 1421.7,382.4 1446.7,389.2 1472.5,396.2 1496.9,402.8 1517.7,408.5 1532.5,412.5" fill="none" stroke="#f1b76f" stroke-width="1.4" stroke-linejoin="round" /><polyline points="915.0,529.2 919.8,529.2 921.1,520.9 923.6,516.4 926.2,515.1 930.7,504.3 938.3,491.5 951.1,473.6" fill="none" stroke="#e99393" stroke-width="1.4" stroke-linejoin="round" /><polyline points="951.1,473.6 956.8,465.9 965.1,454.8 974.7,441.9 984.5,428.7 993.3,416.9 1000.0,408.0 1004.3,402.3 1007.1,398.7 1008.9,396.4 1010.2,394.8 1011.5,393.1 1013.3,390.7 1015.5,387.6 1017.8,384.5 1020.0,381.3 1022.2,378.1 1024.5,375.0 1026.7,372.0 1029.0,369.1 1031.4,366.1 1033.8,363.3 1036.1,360.6 1038.2,358.1 1040.0,356.0 1041.5,354.3 1042.7,352.9 1043.8,351.8 1044.7,350.8 1045.7,350.0 1046.7,349.2 1047.8,348.5 1048.9,347.8 1050.0,347.3 1051.1,346.9 1052.2,346.5 1053.3,346.2 1054.4,345.9 1055.5,345.8 1056.6,345.7 1057.8,345.6 1058.9,345.6 1060.0,345.6 1061.0,345.6 1062.0,345.7 1062.9,345.8 1064.0,345.9 1065.2,346.0 1066.7,346.2 1068.5,346.4 1070.4,346.7 1072.5,346.9 1074.8,347.2 1077.3,347.6 1080.0,348.0 1082.9,348.5 1086.2,349.0 1089.6,349.5 1093.1,350.1 1096.6,350.7 1100.0,351.3 1103.3,351.9 1106.7,352.4 1110.0,353.0 1113.3,353.6 1116.7,354.2 1120.0,354.9 1123.3,355.6 1126.7,356.4 1130.0,357.2 1133.3,358.0 1136.7,358.8 1140.0,359.6 1143.1,360.4 1145.9,361.1 1148.8,361.8 1151.9,362.6 1155.5,363.4 1160.0,364.4 1164.8,365.4 1169.6,366.2 1175.0,367.2 1181.5,368.4 1189.6,370.1 1200.0,372.5 1213.2,375.7 1228.9,379.5 1246.2,383.9 1264.4,388.4 1282.6,393.0 1300.0,397.3 1316.3,401.4 1332.1,405.3 1348.0,409.3 1364.3,413.3 1381.5,417.6 1400.0,422.2 1421.7,427.6 1446.7,433.8 1472.5,440.2 1496.9,446.2 1517.7,451.3 1532.5,455.0" fill="none" stroke="#e99393" stroke-width="1.4" stroke-linejoin="round" /><polyline points="905.0,529.2 928.7,529.2 929.5,517.1 935.0,517.1 936.2,509.4 940.9,509.0 944.7,501.7" fill="none" stroke="#bf2430" stroke-width="1.7" stroke-linejoin="round" /><polyline points="944.7,501.7 951.2,492.2 960.6,478.4 971.5,462.4 982.6,446.2 992.6,431.7 1000.0,421.0 1004.6,414.4 1007.5,410.5 1009.3,408.4 1010.4,407.1 1011.6,405.8 1013.3,403.5 1015.5,400.4 1017.8,397.1 1020.0,393.9 1022.2,390.6 1024.5,387.5 1026.7,384.5 1028.9,381.7 1031.1,379.0 1033.4,376.4 1035.6,373.9 1037.8,371.5 1040.0,369.3 1042.2,367.2 1044.4,365.3 1046.6,363.5 1048.9,361.9 1051.1,360.3 1053.3,358.7 1055.5,357.2 1057.8,355.8 1060.0,354.5 1062.2,353.2 1064.5,352.0 1066.7,350.9 1068.9,349.8 1071.1,348.8 1073.4,347.9 1075.6,347.1 1077.8,346.3 1080.0,345.5 1082.2,344.8 1084.4,344.2 1086.6,343.6 1088.9,343.1 1091.1,342.6 1093.3,342.2 1095.5,341.8 1097.8,341.6 1100.0,341.3 1102.2,341.1 1104.5,340.9 1106.7,340.8 1108.8,340.7 1110.9,340.6 1112.9,340.5 1115.1,340.5 1117.4,340.5 1120.0,340.5 1122.9,340.6 1126.2,340.6 1129.6,340.7 1133.1,340.9 1136.6,341.1 1140.0,341.4 1143.1,341.8 1145.9,342.2 1148.8,342.7 1151.9,343.2 1155.5,343.9 1160.0,344.6 1164.8,345.2 1169.6,345.8 1175.0,346.3 1181.5,347.2 1189.6,348.5 1200.0,350.5 1213.2,353.3 1228.9,356.8 1246.2,360.7 1264.4,364.9 1282.6,369.1 1300.0,373.0 1316.3,376.7 1332.1,380.2 1348.0,383.8 1364.3,387.4 1381.5,391.3 1400.0,395.5 1421.7,400.4 1446.7,406.1 1472.5,411.9 1496.9,417.4 1517.7,422.1 1532.5,425.5" fill="none" stroke="#bf2430" stroke-width="1.7" stroke-linejoin="round" /><polyline points="944.0,529.2 953.6,529.2 955.2,516.4 962.6,516.4 965.1,509.4" fill="none" stroke="#4f4a66" stroke-width="1.5" stroke-linejoin="round" /><polyline points="965.1,509.4 965.7,508.4 966.6,507.0 967.6,505.3 968.8,503.5 970.1,501.4 971.5,499.2 973.1,496.9 974.8,494.4 976.6,491.7 978.6,488.8 980.7,485.8 983.0,482.6 985.6,479.1 988.4,475.3 991.4,471.3 994.4,467.2 997.3,463.3 1000.0,459.6 1002.4,456.2 1004.7,452.9 1006.9,449.7 1009.0,446.6 1011.1,443.6 1013.3,440.5 1015.5,437.4 1017.8,434.4 1020.0,431.4 1022.2,428.5 1024.5,425.5 1026.7,422.5 1028.9,419.5 1031.1,416.5 1033.4,413.5 1035.6,410.5 1037.8,407.5 1040.0,404.5 1042.2,401.5 1044.4,398.4 1046.6,395.4 1048.9,392.4 1051.1,389.5 1053.3,386.7 1055.5,384.0 1057.8,381.4 1060.0,378.8 1062.2,376.4 1064.5,374.1 1066.7,372.0 1068.9,370.1 1071.1,368.4 1073.4,366.9 1075.6,365.5 1077.8,364.1 1080.0,362.7 1082.2,361.3 1084.4,360.0 1086.6,358.8 1088.9,357.6 1091.1,356.4 1093.3,355.3 1095.5,354.2 1097.8,353.2 1100.0,352.3 1102.2,351.3 1104.5,350.4 1106.7,349.6 1108.8,348.8 1110.9,348.1 1112.9,347.3 1115.1,346.7 1117.4,346.0 1120.0,345.3 1122.9,344.6 1126.2,343.9 1129.6,343.2 1133.1,342.5 1136.6,341.9 1140.0,341.3 1143.1,340.8 1145.9,340.3 1148.8,339.9 1151.9,339.4 1155.5,339.0 1160.0,338.5 1165.4,338.0 1171.5,337.4 1178.1,336.8 1185.2,336.2 1192.5,335.6 1200.0,335.0 1207.8,334.4 1215.9,333.8 1224.4,333.2 1233.0,332.6 1241.6,332.1 1250.0,331.6 1257.8,331.2 1264.8,330.8 1271.9,330.5 1279.6,330.2 1288.8,329.9 1300.0,329.6 1313.4,329.3 1328.4,329.1 1344.8,328.8 1362.4,328.6 1380.9,328.5 1400.0,328.3 1421.7,328.2 1446.7,328.1 1472.5,328.1 1496.9,328.0 1517.7,328.0 1532.5,328.0" fill="none" stroke="#4f4a66" stroke-width="1.5" stroke-linejoin="round" /><circle cx="843.0" cy="529.2" r="2.25" fill="#a8a8a8"/><circle cx="846.1" cy="529.2" r="2.25" fill="#a8a8a8"/><circle cx="849.2" cy="529.2" r="2.25" fill="#a8a8a8"/><circle cx="852.2" cy="529.2" r="2.25" fill="#a8a8a8"/><circle cx="855.3" cy="517.1" r="2.25" fill="#a8a8a8"/><circle cx="858.4" cy="517.1" r="2.25" fill="#a8a8a8"/><circle cx="861.5" cy="499.6" r="2.25" fill="#a8a8a8"/><circle cx="864.6" cy="499.6" r="2.25" fill="#a8a8a8"/><circle cx="867.6" cy="499.6" r="2.25" fill="#a8a8a8"/><circle cx="870.7" cy="499.6" r="2.25" fill="#a8a8a8"/><circle cx="873.8" cy="495.7" r="2.25" fill="#a8a8a8"/><circle cx="876.9" cy="491.7" r="2.25" fill="#a8a8a8"/><circle cx="880.0" cy="488.0" r="2.25" fill="#a8a8a8"/><circle cx="883.0" cy="485.0" r="2.25" fill="#a8a8a8"/><circle cx="886.1" cy="485.0" r="2.25" fill="#a8a8a8"/><circle cx="889.2" cy="485.0" r="2.25" fill="#a8a8a8"/><circle cx="892.3" cy="483.5" r="2.25" fill="#a8a8a8"/><circle cx="895.4" cy="483.0" r="2.25" fill="#a8a8a8"/><circle cx="898.4" cy="483.0" r="2.25" fill="#a8a8a8"/><circle cx="901.5" cy="483.0" r="2.25" fill="#a8a8a8"/><circle cx="904.6" cy="482.7" r="2.25" fill="#a8a8a8"/><circle cx="907.7" cy="481.0" r="2.25" fill="#a8a8a8"/><circle cx="910.8" cy="479.4" r="2.25" fill="#a8a8a8"/><circle cx="913.8" cy="478.5" r="2.25" fill="#a8a8a8"/><circle cx="916.9" cy="478.5" r="2.25" fill="#a8a8a8"/><circle cx="920.0" cy="478.4" r="2.25" fill="#a8a8a8"/><circle cx="923.1" cy="478.4" r="2.25" fill="#a8a8a8"/><circle cx="926.2" cy="478.3" r="2.25" fill="#a8a8a8"/><circle cx="929.2" cy="478.3" r="2.25" fill="#a8a8a8"/><circle cx="932.3" cy="478.3" r="2.25" fill="#a8a8a8"/><circle cx="935.4" cy="478.2" r="2.25" fill="#a8a8a8"/><circle cx="938.5" cy="471.1" r="2.25" fill="#a8a8a8"/><circle cx="941.6" cy="463.2" r="2.25" fill="#a8a8a8"/><circle cx="944.7" cy="463.2" r="2.25" fill="#a8a8a8"/><circle cx="947.7" cy="463.2" r="2.25" fill="#a8a8a8"/><circle cx="950.8" cy="455.4" r="2.25" fill="#a8a8a8"/><circle cx="953.9" cy="454.3" r="2.25" fill="#a8a8a8"/><circle cx="957.0" cy="453.1" r="2.25" fill="#a8a8a8"/><circle cx="960.1" cy="451.9" r="2.25" fill="#a8a8a8"/><circle cx="963.1" cy="450.8" r="2.25" fill="#a8a8a8"/><circle cx="966.2" cy="448.7" r="2.25" fill="#a8a8a8"/><circle cx="969.3" cy="445.2" r="2.25" fill="#a8a8a8"/><circle cx="972.4" cy="441.9" r="2.25" fill="#a8a8a8"/><circle cx="975.5" cy="439.1" r="2.25" fill="#a8a8a8"/><circle cx="978.5" cy="433.3" r="2.25" fill="#a8a8a8"/><circle cx="981.6" cy="426.4" r="2.25" fill="#a8a8a8"/><circle cx="984.7" cy="419.4" r="2.25" fill="#a8a8a8"/><circle cx="987.8" cy="414.4" r="2.25" fill="#a8a8a8"/><circle cx="990.9" cy="409.5" r="2.25" fill="#a8a8a8"/><circle cx="993.9" cy="404.5" r="2.25" fill="#a8a8a8"/><circle cx="997.0" cy="399.5" r="2.25" fill="#a8a8a8"/><circle cx="1000.1" cy="394.5" r="2.25" fill="#a8a8a8"/><circle cx="1003.2" cy="389.1" r="2.25" fill="#a8a8a8"/><circle cx="1006.3" cy="383.7" r="2.25" fill="#a8a8a8"/><circle cx="1009.3" cy="378.5" r="2.25" fill="#a8a8a8"/><circle cx="1012.4" cy="373.6" r="2.25" fill="#a8a8a8"/><circle cx="1015.5" cy="369.0" r="2.25" fill="#a8a8a8"/><circle cx="1018.6" cy="362.4" r="2.25" fill="#a8a8a8"/><circle cx="1021.7" cy="355.0" r="2.25" fill="#a8a8a8"/><circle cx="1024.7" cy="347.7" r="2.25" fill="#a8a8a8"/><circle cx="1027.8" cy="341.4" r="2.25" fill="#a8a8a8"/><circle cx="1030.9" cy="335.8" r="2.25" fill="#a8a8a8"/><circle cx="1034.0" cy="331.2" r="2.25" fill="#a8a8a8"/><circle cx="1037.1" cy="326.9" r="2.25" fill="#a8a8a8"/><circle cx="1040.1" cy="323.5" r="2.25" fill="#a8a8a8"/><circle cx="1043.2" cy="319.5" r="2.25" fill="#a8a8a8"/><circle cx="1046.3" cy="315.9" r="2.25" fill="#a8a8a8"/><circle cx="1049.4" cy="312.5" r="2.25" fill="#a8a8a8"/><circle cx="1052.5" cy="309.1" r="2.25" fill="#a8a8a8"/><circle cx="1055.5" cy="305.7" r="2.25" fill="#a8a8a8"/><circle cx="1058.6" cy="303.2" r="2.25" fill="#a8a8a8"/><circle cx="1061.7" cy="300.8" r="2.25" fill="#a8a8a8"/><circle cx="1064.8" cy="298.3" r="2.25" fill="#a8a8a8"/><circle cx="1067.9" cy="295.9" r="2.25" fill="#a8a8a8"/><circle cx="1070.9" cy="293.4" r="2.25" fill="#a8a8a8"/><circle cx="1074.0" cy="291.8" r="2.25" fill="#a8a8a8"/><circle cx="1077.1" cy="290.3" r="2.25" fill="#a8a8a8"/><circle cx="1080.2" cy="288.8" r="2.25" fill="#a8a8a8"/><circle cx="1083.3" cy="287.3" r="2.25" fill="#a8a8a8"/><circle cx="1086.3" cy="286.0" r="2.25" fill="#a8a8a8"/><circle cx="1089.4" cy="285.0" r="2.25" fill="#a8a8a8"/><circle cx="1092.5" cy="284.0" r="2.25" fill="#a8a8a8"/><circle cx="1095.6" cy="282.9" r="2.25" fill="#a8a8a8"/><circle cx="1098.7" cy="281.9" r="2.25" fill="#a8a8a8"/><circle cx="1101.8" cy="280.9" r="2.25" fill="#a8a8a8"/><circle cx="1104.8" cy="280.0" r="2.25" fill="#a8a8a8"/><circle cx="1107.9" cy="279.1" r="2.25" fill="#a8a8a8"/><circle cx="1111.0" cy="278.2" r="2.25" fill="#a8a8a8"/><circle cx="1114.1" cy="277.4" r="2.25" fill="#a8a8a8"/><circle cx="1117.2" cy="276.5" r="2.25" fill="#a8a8a8"/><circle cx="1120.2" cy="275.6" r="2.25" fill="#a8a8a8"/><circle cx="1123.3" cy="274.8" r="2.25" fill="#a8a8a8"/><circle cx="843.0" cy="529.2" r="2.25" fill="#f4bb74"/><circle cx="846.1" cy="529.2" r="2.25" fill="#f4bb74"/><circle cx="849.2" cy="529.2" r="2.25" fill="#f4bb74"/><circle cx="852.2" cy="529.2" r="2.25" fill="#f4bb74"/><circle cx="855.3" cy="529.2" r="2.25" fill="#f4bb74"/><circle cx="858.4" cy="518.7" r="2.25" fill="#f4bb74"/><circle cx="861.5" cy="507.7" r="2.25" fill="#f4bb74"/><circle cx="864.6" cy="509.6" r="2.25" fill="#f4bb74"/><circle cx="867.6" cy="509.6" r="2.25" fill="#f4bb74"/><circle cx="870.7" cy="517.6" r="2.25" fill="#f4bb74"/><circle cx="873.8" cy="529.2" r="2.25" fill="#f4bb74"/><circle cx="876.9" cy="514.3" r="2.25" fill="#f4bb74"/><circle cx="880.0" cy="507.2" r="2.25" fill="#f4bb74"/><circle cx="883.0" cy="506.0" r="2.25" fill="#f4bb74"/><circle cx="886.1" cy="524.9" r="2.25" fill="#f4bb74"/><circle cx="889.2" cy="516.2" r="2.25" fill="#f4bb74"/><circle cx="892.3" cy="529.2" r="2.25" fill="#f4bb74"/><circle cx="895.4" cy="529.2" r="2.25" fill="#f4bb74"/><circle cx="898.4" cy="529.2" r="2.25" fill="#f4bb74"/><circle cx="901.5" cy="529.2" r="2.25" fill="#f4bb74"/><circle cx="904.6" cy="529.2" r="2.25" fill="#f4bb74"/><circle cx="907.7" cy="529.2" r="2.25" fill="#f4bb74"/><circle cx="910.8" cy="527.1" r="2.25" fill="#f4bb74"/><circle cx="913.8" cy="516.4" r="2.25" fill="#f4bb74"/><circle cx="916.9" cy="516.4" r="2.25" fill="#f4bb74"/><circle cx="920.0" cy="516.4" r="2.25" fill="#f4bb74"/><circle cx="923.1" cy="525.2" r="2.25" fill="#f4bb74"/><circle cx="926.2" cy="529.2" r="2.25" fill="#f4bb74"/><circle cx="929.2" cy="529.2" r="2.25" fill="#f4bb74"/><circle cx="932.3" cy="529.2" r="2.25" fill="#f4bb74"/><circle cx="935.4" cy="529.2" r="2.25" fill="#f4bb74"/><circle cx="938.5" cy="515.5" r="2.25" fill="#f4bb74"/><circle cx="941.6" cy="473.7" r="2.25" fill="#f4bb74"/><circle cx="944.7" cy="474.2" r="2.25" fill="#f4bb74"/><circle cx="947.7" cy="474.7" r="2.25" fill="#f4bb74"/><circle cx="950.8" cy="475.2" r="2.25" fill="#f4bb74"/><circle cx="953.9" cy="475.0" r="2.25" fill="#f4bb74"/><circle cx="957.0" cy="476.0" r="2.25" fill="#f4bb74"/><circle cx="960.1" cy="491.1" r="2.25" fill="#f4bb74"/><circle cx="963.1" cy="482.7" r="2.25" fill="#f4bb74"/><circle cx="966.2" cy="484.1" r="2.25" fill="#f4bb74"/><circle cx="969.3" cy="468.6" r="2.25" fill="#f4bb74"/><circle cx="972.4" cy="460.2" r="2.25" fill="#f4bb74"/><circle cx="975.5" cy="453.7" r="2.25" fill="#f4bb74"/><circle cx="978.5" cy="447.6" r="2.25" fill="#f4bb74"/><circle cx="981.6" cy="436.6" r="2.25" fill="#f4bb74"/><circle cx="984.7" cy="429.0" r="2.25" fill="#f4bb74"/><circle cx="987.8" cy="424.5" r="2.25" fill="#f4bb74"/><circle cx="990.9" cy="419.7" r="2.25" fill="#f4bb74"/><circle cx="993.9" cy="414.0" r="2.25" fill="#f4bb74"/><circle cx="997.0" cy="408.2" r="2.25" fill="#f4bb74"/><circle cx="1000.1" cy="402.6" r="2.25" fill="#f4bb74"/><circle cx="1003.2" cy="398.8" r="2.25" fill="#f4bb74"/><circle cx="1006.3" cy="393.7" r="2.25" fill="#f4bb74"/><circle cx="1009.3" cy="388.0" r="2.25" fill="#f4bb74"/><circle cx="1012.4" cy="383.8" r="2.25" fill="#f4bb74"/><circle cx="1015.5" cy="379.7" r="2.25" fill="#f4bb74"/><circle cx="1018.6" cy="373.7" r="2.25" fill="#f4bb74"/><circle cx="1021.7" cy="364.9" r="2.25" fill="#f4bb74"/><circle cx="1024.7" cy="356.6" r="2.25" fill="#f4bb74"/><circle cx="1027.8" cy="351.0" r="2.25" fill="#f4bb74"/><circle cx="1030.9" cy="346.9" r="2.25" fill="#f4bb74"/><circle cx="1034.0" cy="341.9" r="2.25" fill="#f4bb74"/><circle cx="1037.1" cy="338.3" r="2.25" fill="#f4bb74"/><circle cx="1040.1" cy="335.2" r="2.25" fill="#f4bb74"/><circle cx="1043.2" cy="333.2" r="2.25" fill="#f4bb74"/><circle cx="1046.3" cy="329.8" r="2.25" fill="#f4bb74"/><circle cx="1049.4" cy="326.6" r="2.25" fill="#f4bb74"/><circle cx="1052.5" cy="324.5" r="2.25" fill="#f4bb74"/><circle cx="1055.5" cy="323.3" r="2.25" fill="#f4bb74"/><circle cx="1058.6" cy="322.2" r="2.25" fill="#f4bb74"/><circle cx="1061.7" cy="321.1" r="2.25" fill="#f4bb74"/><circle cx="1064.8" cy="319.4" r="2.25" fill="#f4bb74"/><circle cx="1067.9" cy="317.6" r="2.25" fill="#f4bb74"/><circle cx="1070.9" cy="315.8" r="2.25" fill="#f4bb74"/><circle cx="1074.0" cy="314.5" r="2.25" fill="#f4bb74"/><circle cx="1077.1" cy="314.9" r="2.25" fill="#f4bb74"/><circle cx="1080.2" cy="315.3" r="2.25" fill="#f4bb74"/><circle cx="1083.3" cy="315.3" r="2.25" fill="#f4bb74"/><circle cx="1086.3" cy="314.5" r="2.25" fill="#f4bb74"/><circle cx="1089.4" cy="313.7" r="2.25" fill="#f4bb74"/><circle cx="1092.5" cy="313.9" r="2.25" fill="#f4bb74"/><circle cx="1095.6" cy="315.1" r="2.25" fill="#f4bb74"/><circle cx="1098.7" cy="316.4" r="2.25" fill="#f4bb74"/><circle cx="1101.8" cy="317.6" r="2.25" fill="#f4bb74"/><circle cx="1104.8" cy="317.2" r="2.25" fill="#f4bb74"/><circle cx="1107.9" cy="316.4" r="2.25" fill="#f4bb74"/><circle cx="1111.0" cy="315.7" r="2.25" fill="#f4bb74"/><circle cx="1114.1" cy="315.1" r="2.25" fill="#f4bb74"/><circle cx="1117.2" cy="315.3" r="2.25" fill="#f4bb74"/><circle cx="1120.2" cy="315.4" r="2.25" fill="#f4bb74"/><circle cx="1123.3" cy="315.5" r="2.25" fill="#f4bb74"/><circle cx="966.2" cy="527.6" r="2.25" fill="#4b4262"/><circle cx="969.3" cy="514.5" r="2.25" fill="#4b4262"/><circle cx="972.4" cy="495.6" r="2.25" fill="#4b4262"/><circle cx="975.5" cy="488.2" r="2.25" fill="#4b4262"/><circle cx="978.5" cy="484.8" r="2.25" fill="#4b4262"/><circle cx="981.6" cy="482.2" r="2.25" fill="#4b4262"/><circle cx="984.7" cy="478.9" r="2.25" fill="#4b4262"/><circle cx="987.8" cy="475.4" r="2.25" fill="#4b4262"/><circle cx="990.9" cy="471.5" r="2.25" fill="#4b4262"/><circle cx="993.9" cy="468.5" r="2.25" fill="#4b4262"/><circle cx="997.0" cy="467.0" r="2.25" fill="#4b4262"/><circle cx="1000.1" cy="464.7" r="2.25" fill="#4b4262"/><circle cx="1003.2" cy="461.0" r="2.25" fill="#4b4262"/><circle cx="1006.3" cy="457.2" r="2.25" fill="#4b4262"/><circle cx="1009.3" cy="453.3" r="2.25" fill="#4b4262"/><circle cx="1012.4" cy="449.2" r="2.25" fill="#4b4262"/><circle cx="1015.5" cy="445.2" r="2.25" fill="#4b4262"/><circle cx="1018.6" cy="440.8" r="2.25" fill="#4b4262"/><circle cx="1021.7" cy="436.0" r="2.25" fill="#4b4262"/><circle cx="1024.7" cy="434.7" r="2.25" fill="#4b4262"/><circle cx="1027.8" cy="424.8" r="2.25" fill="#4b4262"/><circle cx="1030.9" cy="420.2" r="2.25" fill="#4b4262"/><circle cx="1034.0" cy="413.8" r="2.25" fill="#4b4262"/><circle cx="1037.1" cy="409.5" r="2.25" fill="#4b4262"/><circle cx="1040.1" cy="403.1" r="2.25" fill="#4b4262"/><circle cx="1043.2" cy="398.5" r="2.25" fill="#4b4262"/><circle cx="1046.3" cy="393.8" r="2.25" fill="#4b4262"/><circle cx="1049.4" cy="388.9" r="2.25" fill="#4b4262"/><circle cx="1052.5" cy="384.6" r="2.25" fill="#4b4262"/><circle cx="1055.5" cy="381.6" r="2.25" fill="#4b4262"/><circle cx="1058.6" cy="377.5" r="2.25" fill="#4b4262"/><circle cx="1061.7" cy="373.1" r="2.25" fill="#4b4262"/><circle cx="1064.8" cy="369.1" r="2.25" fill="#4b4262"/><circle cx="1067.9" cy="365.7" r="2.25" fill="#4b4262"/><circle cx="1070.9" cy="362.2" r="2.25" fill="#4b4262"/><circle cx="1074.0" cy="358.9" r="2.25" fill="#4b4262"/><circle cx="1077.1" cy="357.3" r="2.25" fill="#4b4262"/><circle cx="1080.2" cy="354.7" r="2.25" fill="#4b4262"/><circle cx="1083.3" cy="351.1" r="2.25" fill="#4b4262"/><circle cx="1086.3" cy="349.1" r="2.25" fill="#4b4262"/><circle cx="1089.4" cy="347.0" r="2.25" fill="#4b4262"/><circle cx="1092.5" cy="344.8" r="2.25" fill="#4b4262"/><circle cx="1095.6" cy="343.7" r="2.25" fill="#4b4262"/><circle cx="1098.7" cy="342.1" r="2.25" fill="#4b4262"/><circle cx="1101.8" cy="339.3" r="2.25" fill="#4b4262"/><circle cx="1104.8" cy="336.6" r="2.25" fill="#4b4262"/><circle cx="1107.9" cy="335.0" r="2.25" fill="#4b4262"/><circle cx="1111.0" cy="333.3" r="2.25" fill="#4b4262"/><circle cx="1114.1" cy="332.0" r="2.25" fill="#4b4262"/><circle cx="1117.2" cy="330.9" r="2.25" fill="#4b4262"/><circle cx="1120.2" cy="330.0" r="2.25" fill="#4b4262"/><circle cx="1123.3" cy="329.3" r="2.25" fill="#4b4262"/><circle cx="1126.4" cy="329.0" r="2.25" fill="#4b4262"/><text x="1529.5" y="318.2" font-size="9.5" fill="#666" text-anchor="end" >Intervention #2</text><text x="1529.5" y="392" font-size="9.5" fill="#666" text-anchor="end" >Intervention #1</text><text x="838.3" y="187.55" font-size="9" fill="#666" text-anchor="end" >100m</text><text x="838.3" y="274.05" font-size="9" fill="#666" text-anchor="end" >1m</text><text x="838.3" y="360.8" font-size="9" fill="#666" text-anchor="end" >10k</text><text x="838.3" y="446.55" font-size="9" fill="#666" text-anchor="end" >100</text><text x="838.3" y="532.55" font-size="9" fill="#666" text-anchor="end" >1</text><text x="1537.5" y="168.8" font-size="9" fill="#666" text-anchor="start" >100</text><text x="1537.5" y="255.8" font-size="9" fill="#666" text-anchor="start" >75</text><text x="1537.5" y="348.8" font-size="9" fill="#666" text-anchor="start" >50</text><text x="1537.5" y="440.8" font-size="9" fill="#666" text-anchor="start" >25</text><text x="1537.5" y="532.55" font-size="9" fill="#666" text-anchor="start" >0</text><text x="842.5" y="540.5" font-size="8.8" fill="#666" text-anchor="middle" >2020-01-21</text><text x="967.1" y="540.5" font-size="8.8" fill="#666" text-anchor="middle" >2020-03-01</text><text x="1091.8" y="540.5" font-size="8.8" fill="#666" text-anchor="middle" >2020-04-11</text><text x="1216.6" y="540.5" font-size="8.8" fill="#666" text-anchor="middle" >2020-05-21</text><text x="1341.4" y="540.5" font-size="8.8" fill="#666" text-anchor="middle" >2020-07-01</text><text x="1532.5" y="540.5" font-size="8.8" fill="#666" text-anchor="middle" >2020-09-01</text><circle cx="843.3" cy="555.2" r="3.3" fill="#a8a8a8"/><text x="849.4" y="558.3" font-size="9.2" fill="#666" text-anchor="start"  textLength="98" lengthAdjust="spacingAndGlyphs">Cumulative cases (data)</text><circle cx="956.3" cy="555.2" r="3.3" fill="#f4bb74"/><text x="962.5" y="558.3" font-size="9.2" fill="#666" text-anchor="start"  textLength="104.5" lengthAdjust="spacingAndGlyphs">Cases past 3 day(s) (data)</text><circle cx="1075" cy="555.2" r="3.3" fill="#4b4262"/><text x="1081.75" y="558.3" font-size="9.2" fill="#666" text-anchor="start"  textLength="103.25" lengthAdjust="spacingAndGlyphs">Cumulative deaths (data)</text><line x1="1190.9" y1="555.5" x2="1197.9" y2="555.5" stroke="#a3cde3" stroke-width="1" stroke-opacity="0.8"/><circle cx="1194.4" cy="555.5" r="1.3" fill="#fff" stroke="#a3cde3" stroke-width="0.9" stroke-opacity="0.8"/><text x="1200.5" y="558.3" font-size="9.2" fill="#666" text-anchor="start"  textLength="47.5" lengthAdjust="spacingAndGlyphs">Susceptible</text><line x1="1252.75" y1="555.5" x2="1259.75" y2="555.5" stroke="#2f9a2f" stroke-width="1" stroke-opacity="0.8"/><circle cx="1256.25" cy="555.5" r="1.3" fill="#fff" stroke="#2f9a2f" stroke-width="0.9" stroke-opacity="0.8"/><text x="1262.5" y="558.3" font-size="9.2" fill="#666" text-anchor="start"  textLength="43" lengthAdjust="spacingAndGlyphs">Recovered</text><line x1="1310.9" y1="555.5" x2="1317.9" y2="555.5" stroke="#f1b76f" stroke-width="1" stroke-opacity="0.8"/><circle cx="1314.4" cy="555.5" r="1.3" fill="#fff" stroke="#f1b76f" stroke-width="0.9" stroke-opacity="0.8"/><text x="1320.5" y="558.3" font-size="9.2" fill="#666" text-anchor="start"  textLength="40.75" lengthAdjust="spacingAndGlyphs">Infectious</text><line x1="1366.1" y1="555.5" x2="1373.1" y2="555.5" stroke="#e99393" stroke-width="1" stroke-opacity="0.8"/><circle cx="1369.6" cy="555.5" r="1.3" fill="#fff" stroke="#e99393" stroke-width="0.9" stroke-opacity="0.8"/><text x="1376.25" y="558.3" font-size="9.2" fill="#666" text-anchor="start"  textLength="43.75" lengthAdjust="spacingAndGlyphs">Severely ill</text><line x1="1424.5" y1="555.5" x2="1431.5" y2="555.5" stroke="#bf2430" stroke-width="1" stroke-opacity="0.8"/><circle cx="1428" cy="555.5" r="1.3" fill="#fff" stroke="#bf2430" stroke-width="0.9" stroke-opacity="0.8"/><text x="1434.5" y="558.3" font-size="9.2" fill="#666" text-anchor="start"  textLength="94.75" lengthAdjust="spacingAndGlyphs">Patients in ICU (model)</text><line x1="1089.5" y1="573.5" x2="1096.5" y2="573.5" stroke="#8b1a3a" stroke-width="1" stroke-opacity="0.8"/><circle cx="1093" cy="573.5" r="1.3" fill="#fff" stroke="#8b1a3a" stroke-width="0.9" stroke-opacity="0.8"/><text x="1099.5" y="576.3" font-size="9.2" fill="#666" text-anchor="start"  textLength="53" lengthAdjust="spacingAndGlyphs">ICU overflow</text><line x1="1156.5" y1="573.5" x2="1163.5" y2="573.5" stroke="#4f4a66" stroke-width="1" stroke-opacity="0.8"/><circle cx="1160" cy="573.5" r="1.3" fill="#fff" stroke="#4f4a66" stroke-width="0.9" stroke-opacity="0.8"/><text x="1166.25" y="576.3" font-size="9.2" fill="#666" text-anchor="start"  textLength="113" lengthAdjust="spacingAndGlyphs">Cumulative deaths (model)</text><text x="809.5" y="591" font-size="9.3" fill="#555" text-anchor="start"  textLength="126" lengthAdjust="spacingAndGlyphs">Distribution across age groups</text><line x1="839.5" y1="604.5" x2="1535.5" y2="604.5" stroke="#bdbdbd" stroke-dasharray="1,2"/><line x1="839.5" y1="641.5" x2="1535.5" y2="641.5" stroke="#bdbdbd" stroke-dasharray="1,2"/><line x1="839.5" y1="677.5" x2="1535.5" y2="677.5" stroke="#bdbdbd" stroke-dasharray="1,2"/><line x1="839.5" y1="714.5" x2="1535.5" y2="714.5" stroke="#bdbdbd" stroke-dasharray="1,2"/><line x1="878.5" y1="604.5" x2="878.5" y2="750.5" stroke="#bdbdbd" stroke-dasharray="1,2"/><line x1="955.5" y1="604.5" x2="955.5" y2="750.5" stroke="#bdbdbd" stroke-dasharray="1,2"/><line x1="1033.5" y1="604.5" x2="1033.5" y2="750.5" stroke="#bdbdbd" stroke-dasharray="1,2"/><line x1="1110.5" y1="604.5" x2="1110.5" y2="750.5" stroke="#bdbdbd" stroke-dasharray="1,2"/><line x1="1187.5" y1="604.5" x2="1187.5" y2="750.5" stroke="#bdbdbd" stroke-dasharray="1,2"/><line x1="1264.5" y1="604.5" x2="1264.5" y2="750.5" stroke="#bdbdbd" stroke-dasharray="1,2"/><line x1="1341.5" y1="604.5" x2="1341.5" y2="750.5" stroke="#bdbdbd" stroke-dasharray="1,2"/><line x1="1419.5" y1="604.5" x2="1419.5" y2="750.5" stroke="#bdbdbd" stroke-dasharray="1,2"/><line x1="1496.5" y1="604.5" x2="1496.5" y2="750.5" stroke="#bdbdbd" stroke-dasharray="1,2"/><line x1="839.5" y1="604.5" x2="839.5" y2="750.5" stroke="#bbb"/><line x1="1535.5" y1="604.5" x2="1535.5" y2="750.5" stroke="#bbb"/><line x1="839.5" y1="750.5" x2="1535.5" y2="750.5" stroke="#bbb"/><rect x="897.60" y="639.72" width="10" height="110.78" fill="#a9a9a9"/><rect x="925.07" y="750.20" width="10" height="0.30" fill="#f29b9b"/><rect x="937.57" y="750.20" width="10" height="0.30" fill="#e0191f"/><rect x="962.57" y="750.30" width="10" height="0.20" fill="#594a69"/><rect x="974.82" y="632.42" width="10" height="118.08" fill="#a9a9a9"/><rect x="1002.29" y="749.50" width="10" height="1.00" fill="#f29b9b"/><rect x="1014.79" y="749.70" width="10" height="0.80" fill="#e0191f"/><rect x="1039.79" y="750.00" width="10" height="0.50" fill="#594a69"/><rect x="1052.04" y="621.93" width="10" height="128.57" fill="#a9a9a9"/><rect x="1079.51" y="748.75" width="10" height="1.75" fill="#f29b9b"/><rect x="1092.01" y="749.00" width="10" height="1.50" fill="#e0191f"/><rect x="1117.01" y="749.30" width="10" height="1.20" fill="#594a69"/><rect x="1129.26" y="625.94" width="10" height="124.56" fill="#a9a9a9"/><rect x="1156.73" y="746.25" width="10" height="4.25" fill="#f29b9b"/><rect x="1169.23" y="747.50" width="10" height="3.00" fill="#e0191f"/><rect x="1194.23" y="747.50" width="10" height="3.00" fill="#594a69"/><rect x="1206.48" y="637.99" width="10" height="112.51" fill="#a9a9a9"/><rect x="1233.95" y="740.50" width="10" height="10.00" fill="#f29b9b"/><rect x="1246.45" y="742.50" width="10" height="8.00" fill="#e0191f"/><rect x="1271.45" y="737.50" width="10" height="13.00" fill="#594a69"/><rect x="1283.70" y="633.06" width="10" height="117.44" fill="#a9a9a9"/><rect x="1311.17" y="721.00" width="10" height="29.50" fill="#f29b9b"/><rect x="1323.67" y="716.75" width="10" height="33.75" fill="#e0191f"/><rect x="1348.67" y="694.50" width="10" height="56.00" fill="#594a69"/><rect x="1360.92" y="643.19" width="10" height="107.31" fill="#a9a9a9"/><rect x="1388.39" y="715.50" width="10" height="35.00" fill="#f29b9b"/><rect x="1400.89" y="699.25" width="10" height="51.25" fill="#e0191f"/><rect x="1425.89" y="643.00" width="10" height="107.50" fill="#594a69"/><rect x="1438.14" y="683.34" width="10" height="67.16" fill="#a9a9a9"/><rect x="1465.61" y="716.00" width="10" height="34.50" fill="#f29b9b"/><rect x="1478.11" y="687.00" width="10" height="63.50" fill="#e0191f"/><rect x="1503.11" y="613.00" width="10" height="137.50" fill="#594a69"/><rect x="1515.36" y="713.82" width="10" height="36.68" fill="#a9a9a9"/><text x="835.9" y="609.3" font-size="9.3" fill="#666" text-anchor="end" >22k</text><text x="835.9" y="644.3" font-size="9.3" fill="#666" text-anchor="end" >17k</text><text x="835.9" y="680.8" font-size="9.3" fill="#666" text-anchor="end" >11k</text><text x="835.9" y="717.3" font-size="9.3" fill="#666" text-anchor="end" >6k</text><text x="835.9" y="753.8" font-size="9.3" fill="#666" text-anchor="end" >0</text><text x="1539" y="609.3" font-size="9.3" fill="#666" text-anchor="start" >16</text><text x="1539" y="644.3" font-size="9.3" fill="#666" text-anchor="start" >12</text><text x="1539" y="680.8" font-size="9.3" fill="#666" text-anchor="start" >8</text><text x="1539" y="717.3" font-size="9.3" fill="#666" text-anchor="start" >4</text><text x="1539" y="753.8" font-size="9.3" fill="#666" text-anchor="start" >0</text><text x="878.6" y="761.7" font-size="9.3" fill="#666" text-anchor="middle" >0-9</text><text x="955.82" y="761.7" font-size="9.3" fill="#666" text-anchor="middle" >10-19</text><text x="1033.04" y="761.7" font-size="9.3" fill="#666" text-anchor="middle" >20-29</text><text x="1110.26" y="761.7" font-size="9.3" fill="#666" text-anchor="middle" >30-39</text><text x="1187.48" y="761.7" font-size="9.3" fill="#666" text-anchor="middle" >40-49</text><text x="1264.7" y="761.7" font-size="9.3" fill="#666" text-anchor="middle" >50-59</text><text x="1341.92" y="761.7" font-size="9.3" fill="#666" text-anchor="middle" >60-69</text><text x="1419.1399999999999" y="761.7" font-size="9.3" fill="#666" text-anchor="middle" >70-79</text><text x="1496.3600000000001" y="761.7" font-size="9.3" fill="#666" text-anchor="middle" >80+</text><text x="1187.5" y="768.3" font-size="9.3" fill="#555" text-anchor="middle" >Age</text><text x="0" y="0" font-size="9.3" fill="#555" text-anchor="middle" transform="translate(816.3,665) rotate(-90)">Cases</text><text x="0" y="0" font-size="9.3" fill="#555" text-anchor="middle" transform="translate(1558.7,676.5) rotate(90)">Age distribution [%]</text><rect x="1015.5" y="772.3" width="6.3" height="6.3" fill="#f29b9b"/><text x="1024.25" y="778.8" font-size="9.2" fill="#666" text-anchor="start"  textLength="48.75" lengthAdjust="spacingAndGlyphs">peak severe</text><rect x="1078.75" y="772.3" width="6.3" height="6.3" fill="#e0191f"/><text x="1087.5" y="778.8" font-size="9.2" fill="#666" text-anchor="start"  textLength="50" lengthAdjust="spacingAndGlyphs">peak critical</text><rect x="1143.75" y="772.3" width="6.3" height="6.3" fill="#8b1a3a"/><text x="1152.5" y="778.8" font-size="9.2" fill="#666" text-anchor="start"  textLength="58" lengthAdjust="spacingAndGlyphs">peak overflow</text><rect x="1216.75" y="772.3" width="6.3" height="6.3" fill="#594a69"/><text x="1225" y="778.8" font-size="9.2" fill="#666" text-anchor="start"  textLength="49.25" lengthAdjust="spacingAndGlyphs">total deaths</text><rect x="1280" y="772.3" width="6.3" height="6.3" fill="#a9a9a9"/><text x="1288.75" y="778.8" font-size="9.2" fill="#666" text-anchor="start"  textLength="65.5" lengthAdjust="spacingAndGlyphs">% of population</text></svg>
<div class="t" style="top:789.26px;font-size:9.2px;line-height:11.5px;color:#555;left:809.5px;">Proportions</div>
<div class="t" style="top:808.16px;font-size:8.9px;line-height:11.12px;color:#444;font-weight:bold;left:810.3px;">Outcome</div>
<div class="t" style="top:808.16px;font-size:8.9px;line-height:11.12px;color:#444;font-weight:bold;left:862.3px;">Population average</div>
<div class="t" style="top:822.96px;font-size:9.2px;line-height:11.5px;color:#555;left:810.3px;">Mild [%]:</div>
<div class="t" style="top:822.96px;font-size:9.2px;line-height:11.5px;color:#555;left:862.3px;">93.77</div>
<div class="t" style="top:837.96px;font-size:9.2px;line-height:11.5px;color:#555;left:810.3px;">Severe [%]:</div>
<div class="t" style="top:837.96px;font-size:9.2px;line-height:11.5px;color:#555;left:862.3px;">3.48</div>
<div class="t" style="top:852.96px;font-size:9.2px;line-height:11.5px;color:#555;left:810.3px;">Critical [%]:</div>
<div class="t" style="top:852.96px;font-size:9.2px;line-height:11.5px;color:#555;left:862.3px;">1.87</div>
<div class="t" style="top:867.96px;font-size:9.2px;line-height:11.5px;color:#555;left:810.3px;">Fatal [%]:</div>
<div class="t" style="top:867.96px;font-size:9.2px;line-height:11.5px;color:#555;left:862.3px;">0.88</div>
<div class="t" style="top:789.26px;font-size:9.2px;line-height:11.5px;color:#555;left:1195.3px;">Totals/Peak</div>
<div class="t" style="top:808.16px;font-size:8.9px;line-height:11.12px;color:#444;font-weight:bold;left:1195.5px;">Quantity</div>
<div class="t" style="top:808.16px;font-size:8.9px;line-height:11.12px;color:#444;font-weight:bold;left:1250.5px;">Peak/total value</div>
<div class="t" style="top:822.96px;font-size:9.2px;line-height:11.5px;color:#555;left:1195.5px;">Total death:</div>
<div class="t" style="top:822.96px;font-size:9.2px;line-height:11.5px;color:#555;left:1250.5px;">48.3k</div>
<div class="t" style="top:837.96px;font-size:9.2px;line-height:11.5px;color:#555;left:1195.5px;">Total severe:</div>
<div class="t" style="top:837.96px;font-size:9.2px;line-height:11.5px;color:#555;left:1250.5px;">191.56k</div>
<div class="t" style="top:852.96px;font-size:9.2px;line-height:11.5px;color:#555;left:1195.5px;">Peak severe:</div>
<div class="t" style="top:852.96px;font-size:9.2px;line-height:11.5px;color:#555;left:1250.5px;">18.08k</div>
<div class="t" style="top:867.96px;font-size:9.2px;line-height:11.5px;color:#555;left:1195.5px;">Peak critical:</div>
<div class="t" style="top:867.96px;font-size:9.2px;line-height:11.5px;color:#555;left:1250.5px;">24.5k</div>
</body></html>
